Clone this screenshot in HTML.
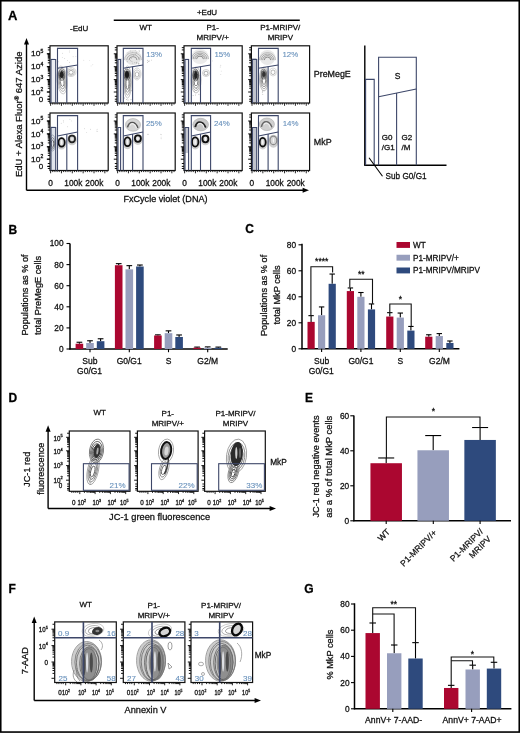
<!DOCTYPE html>
<html><head><meta charset="utf-8"><style>
html,body{margin:0;padding:0;background:#fff;}
text{stroke-width:0.28px;}
svg{display:block;will-change:transform;font-family:"Liberation Sans",sans-serif;}
</style></head><body>
<svg width="520" height="733" viewBox="0 0 520 733">
<rect width="520" height="733" fill="#fff"/>
<rect x="0.75" y="0.75" width="518.50" height="731.30" fill="none" stroke="#000" stroke-width="1.6" />
<text x="8.00" y="20.20" font-size="13" text-anchor="start" fill="#000" stroke="#000" font-weight="bold" >A</text>
<text x="8.40" y="233.50" font-size="12" text-anchor="start" fill="#000" stroke="#000" font-weight="bold" >B</text>
<text x="245.20" y="233.30" font-size="12" text-anchor="start" fill="#000" stroke="#000" font-weight="bold" >C</text>
<text x="8.50" y="402.10" font-size="12" text-anchor="start" fill="#000" stroke="#000" font-weight="bold" >D</text>
<text x="305.00" y="401.60" font-size="12" text-anchor="start" fill="#000" stroke="#000" font-weight="bold" >E</text>
<text x="8.60" y="593.00" font-size="12" text-anchor="start" fill="#000" stroke="#000" font-weight="bold" >F</text>
<text x="304.20" y="593.10" font-size="12" text-anchor="start" fill="#000" stroke="#000" font-weight="bold" >G</text>
<text x="79.10" y="31.00" font-size="8" text-anchor="middle" fill="#111" stroke="#111" font-weight="normal" >-EdU</text>
<text x="207.00" y="14.90" font-size="8" text-anchor="middle" fill="#111" stroke="#111" font-weight="normal" >+EdU</text>
<line x1="113.75" y1="20.20" x2="299.80" y2="20.20" stroke="#000" stroke-width="1.4" />
<text x="145.70" y="30.40" font-size="8" text-anchor="middle" fill="#111" stroke="#111" font-weight="normal" >WT</text>
<text x="212.70" y="30.40" font-size="8" text-anchor="middle" fill="#111" stroke="#111" font-weight="normal" >P1-</text>
<text x="212.70" y="40.10" font-size="8" text-anchor="middle" fill="#111" stroke="#111" font-weight="normal" >MRIPV/+</text>
<text x="280.30" y="30.40" font-size="8" text-anchor="middle" fill="#111" stroke="#111" font-weight="normal" >P1-MRIPV/</text>
<text x="280.30" y="40.10" font-size="8" text-anchor="middle" fill="#111" stroke="#111" font-weight="normal" >MRIPV</text>
<rect x="50.60" y="58.00" width="4.4" height="45.00" fill="#eceef3" opacity="1"/>
<g transform="translate(62.00,80.00) rotate(-5)" opacity="1"><ellipse cx="0" cy="0.00" rx="5.00" ry="14.00" fill="none" stroke="#b8b8b8" stroke-width="0.7"/><ellipse cx="0" cy="0.45" rx="3.94" ry="11.03" fill="none" stroke="#979797" stroke-width="0.7"/><ellipse cx="0" cy="0.89" rx="2.88" ry="8.05" fill="none" stroke="#767676" stroke-width="0.7"/><ellipse cx="0" cy="1.34" rx="1.81" ry="5.08" fill="none" stroke="#555555" stroke-width="0.7"/></g>
<g transform="translate(61.70,74.50) rotate(0)" opacity="1"><ellipse cx="0" cy="0.00" rx="3.20" ry="6.00" fill="none" stroke="#555555" stroke-width="0.7"/><ellipse cx="0" cy="0.26" rx="2.29" ry="4.30" fill="none" stroke="#333333" stroke-width="0.7"/><ellipse cx="0" cy="0.51" rx="1.39" ry="2.60" fill="none" stroke="#111111" stroke-width="0.7"/><ellipse cx="0" cy="0" rx="1.80" ry="3.50" fill="#222"/></g>
<g transform="translate(71.00,72.00) rotate(0)" opacity="1"><ellipse cx="0" cy="0.00" rx="5.00" ry="4.50" fill="none" stroke="#c0c0c0" stroke-width="0.7"/><ellipse cx="0" cy="0.19" rx="3.58" ry="3.23" fill="none" stroke="#a5a5a5" stroke-width="0.7"/><ellipse cx="0" cy="0.38" rx="2.17" ry="1.95" fill="none" stroke="#8a8a8a" stroke-width="0.7"/></g>
<circle cx="62.3" cy="57.6" r="0.45" fill="#bbb"/><circle cx="64.7" cy="58.5" r="0.45" fill="#bbb"/><circle cx="69.3" cy="50.9" r="0.45" fill="#bbb"/><circle cx="58.2" cy="61.7" r="0.45" fill="#bbb"/><circle cx="62.7" cy="53.3" r="0.45" fill="#bbb"/><circle cx="75.9" cy="56.6" r="0.45" fill="#bbb"/><circle cx="73.1" cy="56.7" r="0.45" fill="#bbb"/><circle cx="69.5" cy="52.1" r="0.45" fill="#bbb"/><circle cx="69.4" cy="62.2" r="0.45" fill="#bbb"/><circle cx="67.4" cy="60.4" r="0.45" fill="#bbb"/>
<circle cx="89.7" cy="60.6" r="0.45" fill="#ccc"/><circle cx="91.1" cy="65.9" r="0.45" fill="#ccc"/><circle cx="83.8" cy="60.3" r="0.45" fill="#ccc"/><circle cx="92.8" cy="64.7" r="0.45" fill="#ccc"/>
<rect x="117.60" y="58.00" width="4.4" height="45.00" fill="#eceef3" opacity="1"/>
<ellipse cx="133.00" cy="57.50" rx="8.50" ry="7.50" fill="#e6e6e6"/>
<path d="M124.50,60.12 A8.50,7.50 0 0 1 141.50,60.12" fill="none" stroke="#b9b9b9" stroke-width="0.8"/>
<path d="M126.77,60.12 A6.23,5.50 0 0 1 139.23,60.12" fill="none" stroke="#9d9d9d" stroke-width="0.8"/>
<path d="M129.03,60.12 A3.97,3.50 0 0 1 136.97,60.12" fill="none" stroke="#828282" stroke-width="0.8"/>
<circle cx="136.8" cy="62.3" r="0.45" fill="#999"/><circle cx="136.7" cy="62.9" r="0.45" fill="#999"/><circle cx="131.9" cy="61.2" r="0.45" fill="#999"/><circle cx="132.7" cy="63.1" r="0.45" fill="#999"/><circle cx="139.2" cy="51.4" r="0.45" fill="#999"/><circle cx="128.0" cy="53.0" r="0.45" fill="#999"/><circle cx="140.5" cy="56.1" r="0.45" fill="#999"/><circle cx="135.4" cy="54.2" r="0.45" fill="#999"/><circle cx="133.6" cy="55.4" r="0.45" fill="#999"/><circle cx="131.3" cy="58.2" r="0.45" fill="#999"/><circle cx="134.8" cy="62.7" r="0.45" fill="#999"/><circle cx="136.2" cy="63.0" r="0.45" fill="#999"/><circle cx="138.8" cy="63.9" r="0.45" fill="#999"/><circle cx="136.1" cy="52.3" r="0.45" fill="#999"/><circle cx="138.9" cy="63.5" r="0.45" fill="#999"/><circle cx="139.6" cy="58.0" r="0.45" fill="#999"/><circle cx="136.7" cy="53.0" r="0.45" fill="#999"/><circle cx="138.5" cy="58.0" r="0.45" fill="#999"/><circle cx="130.3" cy="50.9" r="0.45" fill="#999"/><circle cx="138.8" cy="63.9" r="0.45" fill="#999"/><circle cx="127.3" cy="61.2" r="0.45" fill="#999"/><circle cx="132.2" cy="52.1" r="0.45" fill="#999"/><circle cx="130.4" cy="60.8" r="0.45" fill="#999"/><circle cx="139.1" cy="50.6" r="0.45" fill="#999"/><circle cx="135.2" cy="50.6" r="0.45" fill="#999"/>
<g transform="translate(127.50,82.00) rotate(0)" opacity="1"><ellipse cx="0" cy="0.00" rx="4.00" ry="16.00" fill="none" stroke="#b0b0b0" stroke-width="0.7"/><ellipse cx="0" cy="0.51" rx="3.15" ry="12.60" fill="none" stroke="#919191" stroke-width="0.7"/><ellipse cx="0" cy="1.02" rx="2.30" ry="9.20" fill="none" stroke="#737373" stroke-width="0.7"/><ellipse cx="0" cy="1.53" rx="1.45" ry="5.80" fill="none" stroke="#555555" stroke-width="0.7"/></g>
<g transform="translate(127.00,74.50) rotate(0)" opacity="1"><ellipse cx="0" cy="0.00" rx="3.20" ry="5.50" fill="none" stroke="#444444" stroke-width="0.7"/><ellipse cx="0" cy="0.23" rx="2.29" ry="3.94" fill="none" stroke="#2a2a2a" stroke-width="0.7"/><ellipse cx="0" cy="0.47" rx="1.39" ry="2.38" fill="none" stroke="#111111" stroke-width="0.7"/><ellipse cx="0" cy="0" rx="2.00" ry="3.60" fill="#1a1a1a"/></g>
<g transform="translate(137.00,74.00) rotate(0)" opacity="1"><ellipse cx="0" cy="0.00" rx="4.00" ry="6.00" fill="none" stroke="#c8c8c8" stroke-width="0.7"/><ellipse cx="0" cy="0.26" rx="2.87" ry="4.30" fill="none" stroke="#b0b0b0" stroke-width="0.7"/><ellipse cx="0" cy="0.51" rx="1.73" ry="2.60" fill="none" stroke="#999999" stroke-width="0.7"/></g>
<circle cx="129.7" cy="90.0" r="0.45" fill="#777"/><circle cx="131.0" cy="99.7" r="0.45" fill="#777"/><circle cx="128.0" cy="100.0" r="0.45" fill="#777"/><circle cx="126.5" cy="86.2" r="0.45" fill="#777"/><circle cx="128.8" cy="85.5" r="0.45" fill="#777"/><circle cx="125.6" cy="91.1" r="0.45" fill="#777"/><circle cx="128.9" cy="87.3" r="0.45" fill="#777"/><circle cx="124.3" cy="98.0" r="0.45" fill="#777"/><circle cx="126.5" cy="99.4" r="0.45" fill="#777"/><circle cx="131.2" cy="90.7" r="0.45" fill="#777"/>
<circle cx="147.7" cy="60.2" r="0.45" fill="#999"/><circle cx="149.2" cy="61.0" r="0.45" fill="#999"/><circle cx="148.5" cy="61.2" r="0.45" fill="#999"/><circle cx="151.5" cy="60.1" r="0.45" fill="#999"/><circle cx="147.4" cy="62.2" r="0.45" fill="#999"/>
<rect x="184.60" y="58.00" width="4.4" height="45.00" fill="#eceef3" opacity="1"/>
<ellipse cx="200.00" cy="56.50" rx="8.50" ry="7.50" fill="#ebebeb"/>
<path d="M191.50,59.12 A8.50,7.50 0 0 1 208.50,59.12" fill="none" stroke="#aaaaaa" stroke-width="0.8"/>
<path d="M193.20,59.12 A6.80,6.00 0 0 1 206.80,59.12" fill="none" stroke="#969696" stroke-width="0.8"/>
<path d="M194.90,59.12 A5.10,4.50 0 0 1 205.10,59.12" fill="none" stroke="#828282" stroke-width="0.8"/>
<path d="M196.60,59.12 A3.40,3.00 0 0 1 203.40,59.12" fill="none" stroke="#6e6e6e" stroke-width="0.8"/>
<g transform="translate(196.00,80.00) rotate(0)" opacity="1"><ellipse cx="0" cy="0.00" rx="5.00" ry="13.00" fill="none" stroke="#aaaaaa" stroke-width="0.7"/><ellipse cx="0" cy="0.41" rx="3.94" ry="10.24" fill="none" stroke="#8d8d8d" stroke-width="0.7"/><ellipse cx="0" cy="0.83" rx="2.88" ry="7.47" fill="none" stroke="#717171" stroke-width="0.7"/><ellipse cx="0" cy="1.24" rx="1.81" ry="4.71" fill="none" stroke="#555555" stroke-width="0.7"/></g>
<g transform="translate(195.70,75.00) rotate(0)" opacity="1"><ellipse cx="0" cy="0.00" rx="2.80" ry="6.00" fill="none" stroke="#333333" stroke-width="0.7"/><ellipse cx="0" cy="0.26" rx="2.01" ry="4.30" fill="none" stroke="#222222" stroke-width="0.7"/><ellipse cx="0" cy="0.51" rx="1.21" ry="2.60" fill="none" stroke="#111111" stroke-width="0.7"/><ellipse cx="0" cy="0" rx="1.50" ry="4.00" fill="#222"/></g>
<g transform="translate(206.00,73.00) rotate(0)" opacity="1"><ellipse cx="0" cy="0.00" rx="3.50" ry="3.50" fill="none" stroke="#bbbbbb" stroke-width="0.7"/><ellipse cx="0" cy="0.22" rx="2.01" ry="2.01" fill="none" stroke="#888888" stroke-width="0.7"/></g>
<circle cx="194.4" cy="91.6" r="0.45" fill="#888"/><circle cx="198.9" cy="94.3" r="0.45" fill="#888"/><circle cx="196.3" cy="88.1" r="0.45" fill="#888"/><circle cx="195.5" cy="95.0" r="0.45" fill="#888"/><circle cx="193.1" cy="95.4" r="0.45" fill="#888"/><circle cx="196.8" cy="88.7" r="0.45" fill="#888"/>
<circle cx="220.2" cy="67.0" r="0.45" fill="#bbb"/><circle cx="220.8" cy="65.3" r="0.45" fill="#bbb"/><circle cx="221.2" cy="71.1" r="0.45" fill="#bbb"/><circle cx="212.3" cy="60.9" r="0.45" fill="#bbb"/><circle cx="220.8" cy="74.4" r="0.45" fill="#bbb"/>
<rect x="252" y="58" width="4.5" height="45" fill="#b9bcc7" opacity="0.9"/>
<ellipse cx="267.50" cy="57.50" rx="8.00" ry="7.50" fill="#e8e8e8"/>
<path d="M259.50,60.12 A8.00,7.50 0 0 1 275.50,60.12" fill="none" stroke="#afafaf" stroke-width="0.8"/>
<path d="M261.10,60.12 A6.40,6.00 0 0 1 273.90,60.12" fill="none" stroke="#9c9c9c" stroke-width="0.8"/>
<path d="M262.70,60.12 A4.80,4.50 0 0 1 272.30,60.12" fill="none" stroke="#8a8a8a" stroke-width="0.8"/>
<path d="M264.30,60.12 A3.20,3.00 0 0 1 270.70,60.12" fill="none" stroke="#787878" stroke-width="0.8"/>
<g transform="translate(264.00,79.00) rotate(0)" opacity="1"><ellipse cx="0" cy="0.00" rx="4.50" ry="12.00" fill="none" stroke="#aaaaaa" stroke-width="0.7"/><ellipse cx="0" cy="0.38" rx="3.54" ry="9.45" fill="none" stroke="#8d8d8d" stroke-width="0.7"/><ellipse cx="0" cy="0.77" rx="2.59" ry="6.90" fill="none" stroke="#717171" stroke-width="0.7"/><ellipse cx="0" cy="1.15" rx="1.63" ry="4.35" fill="none" stroke="#555555" stroke-width="0.7"/></g>
<g transform="translate(263.80,74.00) rotate(0)" opacity="1"><ellipse cx="0" cy="0.00" rx="2.60" ry="5.00" fill="none" stroke="#444444" stroke-width="0.7"/><ellipse cx="0" cy="0.21" rx="1.86" ry="3.58" fill="none" stroke="#333333" stroke-width="0.7"/><ellipse cx="0" cy="0.42" rx="1.13" ry="2.17" fill="none" stroke="#222222" stroke-width="0.7"/><ellipse cx="0" cy="0" rx="1.40" ry="3.00" fill="#333"/></g>
<g transform="translate(273.00,72.00) rotate(0)" opacity="1"><ellipse cx="0" cy="0.00" rx="3.50" ry="4.00" fill="none" stroke="#cccccc" stroke-width="0.7"/><ellipse cx="0" cy="0.26" rx="2.01" ry="2.30" fill="none" stroke="#999999" stroke-width="0.7"/></g>
<circle cx="262.3" cy="92.4" r="0.45" fill="#999"/><circle cx="264.0" cy="90.5" r="0.45" fill="#999"/><circle cx="262.8" cy="90.4" r="0.45" fill="#999"/><circle cx="262.8" cy="94.3" r="0.45" fill="#999"/><circle cx="262.5" cy="91.3" r="0.45" fill="#999"/><circle cx="264.9" cy="86.4" r="0.45" fill="#999"/>
<rect x="50.6" y="126" width="5" height="44" fill="#dde1ea" opacity="0.9"/>
<g transform="translate(52.50,143.00) rotate(0)" opacity="1"><ellipse cx="0" cy="0.00" rx="3.00" ry="8.00" fill="none" stroke="#8890a0" stroke-width="0.7"/><ellipse cx="0" cy="0.34" rx="2.15" ry="5.73" fill="none" stroke="#5d6169" stroke-width="0.7"/><ellipse cx="0" cy="0.68" rx="1.30" ry="3.47" fill="none" stroke="#333333" stroke-width="0.7"/></g>
<ellipse cx="61.60" cy="143.20" rx="4.90" ry="6.40" fill="#c4c4c4" opacity="0.8"/>
<ellipse cx="61.60" cy="142.40" rx="3.10" ry="4.20" fill="#d8d8d8" stroke="#0d0d0d" stroke-width="1.8"/>
<ellipse cx="61.60" cy="142.40" rx="0.7" ry="2.31" fill="#fff" opacity="0.8"/>
<ellipse cx="72.00" cy="139.80" rx="4.90" ry="5.50" fill="#c4c4c4" opacity="0.8"/>
<ellipse cx="72.00" cy="139.00" rx="3.10" ry="3.30" fill="#ccc" stroke="#222" stroke-width="1.7"/>
<ellipse cx="72.00" cy="139.00" rx="0.7" ry="1.81" fill="#fff" opacity="0.8"/>
<circle cx="67.7" cy="126.8" r="0.45" fill="#bbb"/><circle cx="63.3" cy="120.7" r="0.45" fill="#bbb"/><circle cx="71.7" cy="120.9" r="0.45" fill="#bbb"/><circle cx="61.2" cy="123.2" r="0.45" fill="#bbb"/><circle cx="69.9" cy="119.2" r="0.45" fill="#bbb"/><circle cx="63.5" cy="122.0" r="0.45" fill="#bbb"/>
<circle cx="96.7" cy="131.1" r="0.45" fill="#bbb"/><circle cx="97.1" cy="129.2" r="0.45" fill="#bbb"/><circle cx="86.7" cy="132.6" r="0.45" fill="#bbb"/><circle cx="97.7" cy="131.2" r="0.45" fill="#bbb"/><circle cx="84.5" cy="128.8" r="0.45" fill="#bbb"/><circle cx="90.6" cy="129.3" r="0.45" fill="#bbb"/>
<ellipse cx="133.00" cy="124.90" rx="7.50" ry="6.30" fill="#d6d6d6"/>
<ellipse cx="133.00" cy="124.90" rx="7.50" ry="6.30" fill="none" stroke="#aaa" stroke-width="0.6"/>
<path d="M127.50,127.40 C129.00,120.90 135.00,120.40 138.00,127.90" fill="none" stroke="#555" stroke-width="1.5"/>
<path d="M130.00,125.40 C131.50,122.40 135.00,123.40 136.50,128.10" fill="none" stroke="#eee" stroke-width="1.1"/>
<ellipse cx="127.50" cy="142.60" rx="4.90" ry="6.60" fill="#c4c4c4" opacity="0.8"/>
<ellipse cx="127.50" cy="141.80" rx="3.10" ry="4.40" fill="#d8d8d8" stroke="#0d0d0d" stroke-width="1.8"/>
<ellipse cx="127.50" cy="141.80" rx="0.7" ry="2.42" fill="#fff" opacity="0.8"/>
<ellipse cx="137.90" cy="139.40" rx="4.80" ry="5.50" fill="#c4c4c4" opacity="0.8"/>
<ellipse cx="137.90" cy="138.60" rx="3.00" ry="3.30" fill="#d8d8d8" stroke="#0d0d0d" stroke-width="1.8"/>
<ellipse cx="137.90" cy="138.60" rx="0.7" ry="1.81" fill="#fff" opacity="0.8"/>
<circle cx="161.1" cy="138.7" r="0.45" fill="#bbb"/><circle cx="148.7" cy="134.2" r="0.45" fill="#bbb"/><circle cx="161.1" cy="137.1" r="0.45" fill="#bbb"/><circle cx="161.1" cy="134.8" r="0.45" fill="#bbb"/><circle cx="147.6" cy="134.3" r="0.45" fill="#bbb"/><circle cx="160.9" cy="134.2" r="0.45" fill="#bbb"/>
<ellipse cx="200.70" cy="124.60" rx="7.80" ry="6.30" fill="#c8c8c8"/>
<ellipse cx="200.70" cy="124.60" rx="7.80" ry="6.30" fill="none" stroke="#aaa" stroke-width="0.6"/>
<path d="M195.20,127.10 C196.70,120.60 202.70,120.10 205.70,127.60" fill="none" stroke="#222" stroke-width="1.9"/>
<path d="M197.70,125.10 C199.20,122.10 202.70,123.10 204.20,127.80" fill="none" stroke="#eee" stroke-width="1.1"/>
<ellipse cx="195.20" cy="142.80" rx="5.00" ry="6.80" fill="#c4c4c4" opacity="0.8"/>
<ellipse cx="195.20" cy="142.00" rx="3.20" ry="4.60" fill="#d8d8d8" stroke="#0d0d0d" stroke-width="1.8"/>
<ellipse cx="195.20" cy="142.00" rx="0.7" ry="2.53" fill="#fff" opacity="0.8"/>
<ellipse cx="205.40" cy="139.80" rx="4.80" ry="5.50" fill="#c4c4c4" opacity="0.8"/>
<ellipse cx="205.40" cy="139.00" rx="3.00" ry="3.30" fill="#d8d8d8" stroke="#0d0d0d" stroke-width="1.8"/>
<ellipse cx="205.40" cy="139.00" rx="0.7" ry="1.81" fill="#fff" opacity="0.8"/>
<rect x="185" y="128" width="3.4" height="25" fill="#b8bcc6" opacity="0.8"/>
<rect x="252" y="128" width="4.5" height="42" fill="#b9bcc7" opacity="0.9"/>
<ellipse cx="266.90" cy="124.30" rx="7.50" ry="6.30" fill="#d0d0d0"/>
<ellipse cx="266.90" cy="124.30" rx="7.50" ry="6.30" fill="none" stroke="#aaa" stroke-width="0.6"/>
<path d="M261.40,126.80 C262.90,120.30 268.90,119.80 271.90,127.30" fill="none" stroke="#666" stroke-width="1.5"/>
<path d="M263.90,124.80 C265.40,121.80 268.90,122.80 270.40,127.50" fill="none" stroke="#eee" stroke-width="1.1"/>
<ellipse cx="262.70" cy="143.00" rx="4.80" ry="6.50" fill="#c4c4c4" opacity="0.8"/>
<ellipse cx="262.70" cy="142.20" rx="3.00" ry="4.30" fill="#d8d8d8" stroke="#0d0d0d" stroke-width="1.8"/>
<ellipse cx="262.70" cy="142.20" rx="0.7" ry="2.37" fill="#fff" opacity="0.8"/>
<ellipse cx="273.40" cy="141.20" rx="5.20" ry="6.50" fill="#c4c4c4" opacity="0.8"/>
<ellipse cx="273.40" cy="140.40" rx="3.40" ry="4.30" fill="#d5d5d5" stroke="#888" stroke-width="1.2"/>
<ellipse cx="273.40" cy="140.40" rx="0.7" ry="2.37" fill="#fff" opacity="0.8"/>
<rect x="50.00" y="45.80" width="58.20" height="57.20" fill="none" stroke="#111" stroke-width="1.2" />
<path d="M50.00,92.00h-3.20 M50.00,88.27h-2.20 M50.00,86.08h-2.20 M50.00,84.53h-2.20 M50.00,83.33h-2.20 M50.00,82.35h-2.20 M50.00,81.52h-2.20 M50.00,80.80h-2.20 M50.00,80.17h-2.20 M50.00,79.60h-3.20 M50.00,75.72h-2.20 M50.00,73.45h-2.20 M50.00,71.83h-2.20 M50.00,70.58h-2.20 M50.00,69.56h-2.20 M50.00,68.70h-2.20 M50.00,67.95h-2.20 M50.00,67.29h-2.20 M50.00,66.70h-3.20 M50.00,62.82h-2.20 M50.00,60.55h-2.20 M50.00,58.93h-2.20 M50.00,57.68h-2.20 M50.00,56.66h-2.20 M50.00,55.80h-2.20 M50.00,55.05h-2.20 M50.00,54.39h-2.20 M50.00,53.80h-3.20 M50.00,49.92h-2.20 M50.00,47.65h-2.20 M50.00,99.20h-2.20 M50.00,96.30h-2.20 M50.00,101.30h-2.20" stroke="#111" stroke-width="1.0" fill="none"/>
<path d="M50.60,103.00v2.80 M52.77,103.00v1.60 M54.94,103.00v1.60 M57.11,103.00v1.60 M59.28,103.00v1.60 M61.45,103.00v2.80 M63.62,103.00v1.60 M65.79,103.00v1.60 M67.96,103.00v1.60 M70.13,103.00v1.60 M72.30,103.00v2.80 M74.47,103.00v1.60 M76.64,103.00v1.60 M78.81,103.00v1.60 M80.98,103.00v1.60 M83.15,103.00v2.80 M85.32,103.00v1.60 M87.49,103.00v1.60 M89.66,103.00v1.60 M91.83,103.00v1.60 M94.00,103.00v2.80 M96.17,103.00v1.60 M98.34,103.00v1.60 M100.51,103.00v1.60 M102.68,103.00v1.60 M104.85,103.00v2.80 M107.02,103.00v1.60" stroke="#111" stroke-width="0.9" fill="none"/>
<path d="M51.00,103.00 V59.50 H55.70 V103.00" fill="none" stroke="#3d4769" stroke-width="1.1"/>
<path d="M57.50,103.00 V48.40 H77.60 V103.00" fill="none" stroke="#3d4769" stroke-width="1.1"/>
<line x1="57.50" y1="68.20" x2="77.60" y2="65.00" stroke="#3d4769" stroke-width="1.1" />
<line x1="66.80" y1="66.72" x2="66.80" y2="103.00" stroke="#3d4769" stroke-width="1.1" />
<rect x="117.00" y="45.80" width="58.20" height="57.20" fill="none" stroke="#111" stroke-width="1.2" />
<path d="M117.00,92.00h-3.20 M117.00,88.27h-2.20 M117.00,86.08h-2.20 M117.00,84.53h-2.20 M117.00,83.33h-2.20 M117.00,82.35h-2.20 M117.00,81.52h-2.20 M117.00,80.80h-2.20 M117.00,80.17h-2.20 M117.00,79.60h-3.20 M117.00,75.72h-2.20 M117.00,73.45h-2.20 M117.00,71.83h-2.20 M117.00,70.58h-2.20 M117.00,69.56h-2.20 M117.00,68.70h-2.20 M117.00,67.95h-2.20 M117.00,67.29h-2.20 M117.00,66.70h-3.20 M117.00,62.82h-2.20 M117.00,60.55h-2.20 M117.00,58.93h-2.20 M117.00,57.68h-2.20 M117.00,56.66h-2.20 M117.00,55.80h-2.20 M117.00,55.05h-2.20 M117.00,54.39h-2.20 M117.00,53.80h-3.20 M117.00,49.92h-2.20 M117.00,47.65h-2.20 M117.00,99.20h-2.20 M117.00,96.30h-2.20 M117.00,101.30h-2.20" stroke="#111" stroke-width="1.0" fill="none"/>
<path d="M117.60,103.00v2.80 M119.77,103.00v1.60 M121.94,103.00v1.60 M124.11,103.00v1.60 M126.28,103.00v1.60 M128.45,103.00v2.80 M130.62,103.00v1.60 M132.79,103.00v1.60 M134.96,103.00v1.60 M137.13,103.00v1.60 M139.30,103.00v2.80 M141.47,103.00v1.60 M143.64,103.00v1.60 M145.81,103.00v1.60 M147.98,103.00v1.60 M150.15,103.00v2.80 M152.32,103.00v1.60 M154.49,103.00v1.60 M156.66,103.00v1.60 M158.83,103.00v1.60 M161.00,103.00v2.80 M163.17,103.00v1.60 M165.34,103.00v1.60 M167.51,103.00v1.60 M169.68,103.00v1.60 M171.85,103.00v2.80 M174.02,103.00v1.60" stroke="#111" stroke-width="0.9" fill="none"/>
<path d="M118.00,103.00 V59.50 H120.60 V103.00" fill="none" stroke="#3d4769" stroke-width="1.1"/>
<path d="M123.30,103.00 V48.40 H143.00 V103.00" fill="none" stroke="#3d4769" stroke-width="1.1"/>
<line x1="123.30" y1="68.20" x2="143.00" y2="65.00" stroke="#3d4769" stroke-width="1.1" />
<line x1="132.60" y1="66.69" x2="132.60" y2="103.00" stroke="#3d4769" stroke-width="1.1" />
<rect x="184.00" y="45.80" width="58.20" height="57.20" fill="none" stroke="#111" stroke-width="1.2" />
<path d="M184.00,92.00h-3.20 M184.00,88.27h-2.20 M184.00,86.08h-2.20 M184.00,84.53h-2.20 M184.00,83.33h-2.20 M184.00,82.35h-2.20 M184.00,81.52h-2.20 M184.00,80.80h-2.20 M184.00,80.17h-2.20 M184.00,79.60h-3.20 M184.00,75.72h-2.20 M184.00,73.45h-2.20 M184.00,71.83h-2.20 M184.00,70.58h-2.20 M184.00,69.56h-2.20 M184.00,68.70h-2.20 M184.00,67.95h-2.20 M184.00,67.29h-2.20 M184.00,66.70h-3.20 M184.00,62.82h-2.20 M184.00,60.55h-2.20 M184.00,58.93h-2.20 M184.00,57.68h-2.20 M184.00,56.66h-2.20 M184.00,55.80h-2.20 M184.00,55.05h-2.20 M184.00,54.39h-2.20 M184.00,53.80h-3.20 M184.00,49.92h-2.20 M184.00,47.65h-2.20 M184.00,99.20h-2.20 M184.00,96.30h-2.20 M184.00,101.30h-2.20" stroke="#111" stroke-width="1.0" fill="none"/>
<path d="M184.60,103.00v2.80 M186.77,103.00v1.60 M188.94,103.00v1.60 M191.11,103.00v1.60 M193.28,103.00v1.60 M195.45,103.00v2.80 M197.62,103.00v1.60 M199.79,103.00v1.60 M201.96,103.00v1.60 M204.13,103.00v1.60 M206.30,103.00v2.80 M208.47,103.00v1.60 M210.64,103.00v1.60 M212.81,103.00v1.60 M214.98,103.00v1.60 M217.15,103.00v2.80 M219.32,103.00v1.60 M221.49,103.00v1.60 M223.66,103.00v1.60 M225.83,103.00v1.60 M228.00,103.00v2.80 M230.17,103.00v1.60 M232.34,103.00v1.60 M234.51,103.00v1.60 M236.68,103.00v1.60 M238.85,103.00v2.80 M241.02,103.00v1.60" stroke="#111" stroke-width="0.9" fill="none"/>
<path d="M185.00,103.00 V59.50 H188.60 V103.00" fill="none" stroke="#3d4769" stroke-width="1.1"/>
<path d="M191.30,103.00 V48.40 H210.60 V103.00" fill="none" stroke="#3d4769" stroke-width="1.1"/>
<line x1="191.30" y1="68.20" x2="210.60" y2="65.00" stroke="#3d4769" stroke-width="1.1" />
<line x1="200.50" y1="66.67" x2="200.50" y2="103.00" stroke="#3d4769" stroke-width="1.1" />
<rect x="251.40" y="45.80" width="58.20" height="57.20" fill="none" stroke="#111" stroke-width="1.2" />
<path d="M251.40,92.00h-3.20 M251.40,88.27h-2.20 M251.40,86.08h-2.20 M251.40,84.53h-2.20 M251.40,83.33h-2.20 M251.40,82.35h-2.20 M251.40,81.52h-2.20 M251.40,80.80h-2.20 M251.40,80.17h-2.20 M251.40,79.60h-3.20 M251.40,75.72h-2.20 M251.40,73.45h-2.20 M251.40,71.83h-2.20 M251.40,70.58h-2.20 M251.40,69.56h-2.20 M251.40,68.70h-2.20 M251.40,67.95h-2.20 M251.40,67.29h-2.20 M251.40,66.70h-3.20 M251.40,62.82h-2.20 M251.40,60.55h-2.20 M251.40,58.93h-2.20 M251.40,57.68h-2.20 M251.40,56.66h-2.20 M251.40,55.80h-2.20 M251.40,55.05h-2.20 M251.40,54.39h-2.20 M251.40,53.80h-3.20 M251.40,49.92h-2.20 M251.40,47.65h-2.20 M251.40,99.20h-2.20 M251.40,96.30h-2.20 M251.40,101.30h-2.20" stroke="#111" stroke-width="1.0" fill="none"/>
<path d="M252.00,103.00v2.80 M254.17,103.00v1.60 M256.34,103.00v1.60 M258.51,103.00v1.60 M260.68,103.00v1.60 M262.85,103.00v2.80 M265.02,103.00v1.60 M267.19,103.00v1.60 M269.36,103.00v1.60 M271.53,103.00v1.60 M273.70,103.00v2.80 M275.87,103.00v1.60 M278.04,103.00v1.60 M280.21,103.00v1.60 M282.38,103.00v1.60 M284.55,103.00v2.80 M286.72,103.00v1.60 M288.89,103.00v1.60 M291.06,103.00v1.60 M293.23,103.00v1.60 M295.40,103.00v2.80 M297.57,103.00v1.60 M299.74,103.00v1.60 M301.91,103.00v1.60 M304.08,103.00v1.60 M306.25,103.00v2.80 M308.42,103.00v1.60" stroke="#111" stroke-width="0.9" fill="none"/>
<path d="M252.40,103.00 V59.50 H256.70 V103.00" fill="none" stroke="#3d4769" stroke-width="1.1"/>
<path d="M258.50,103.00 V48.40 H278.20 V103.00" fill="none" stroke="#3d4769" stroke-width="1.1"/>
<line x1="258.50" y1="68.20" x2="278.20" y2="65.00" stroke="#3d4769" stroke-width="1.1" />
<line x1="268.10" y1="66.64" x2="268.10" y2="103.00" stroke="#3d4769" stroke-width="1.1" />
<rect x="50.00" y="113.00" width="58.20" height="57.50" fill="none" stroke="#111" stroke-width="1.2" />
<path d="M50.00,159.20h-3.20 M50.00,155.47h-2.20 M50.00,153.28h-2.20 M50.00,151.73h-2.20 M50.00,150.53h-2.20 M50.00,149.55h-2.20 M50.00,148.72h-2.20 M50.00,148.00h-2.20 M50.00,147.37h-2.20 M50.00,146.80h-3.20 M50.00,142.92h-2.20 M50.00,140.65h-2.20 M50.00,139.03h-2.20 M50.00,137.78h-2.20 M50.00,136.76h-2.20 M50.00,135.90h-2.20 M50.00,135.15h-2.20 M50.00,134.49h-2.20 M50.00,133.90h-3.20 M50.00,130.02h-2.20 M50.00,127.75h-2.20 M50.00,126.13h-2.20 M50.00,124.88h-2.20 M50.00,123.86h-2.20 M50.00,123.00h-2.20 M50.00,122.25h-2.20 M50.00,121.59h-2.20 M50.00,121.00h-3.20 M50.00,117.12h-2.20 M50.00,114.85h-2.20 M50.00,166.40h-2.20 M50.00,163.50h-2.20 M50.00,168.50h-2.20" stroke="#111" stroke-width="1.0" fill="none"/>
<path d="M50.60,170.50v2.80 M52.77,170.50v1.60 M54.94,170.50v1.60 M57.11,170.50v1.60 M59.28,170.50v1.60 M61.45,170.50v2.80 M63.62,170.50v1.60 M65.79,170.50v1.60 M67.96,170.50v1.60 M70.13,170.50v1.60 M72.30,170.50v2.80 M74.47,170.50v1.60 M76.64,170.50v1.60 M78.81,170.50v1.60 M80.98,170.50v1.60 M83.15,170.50v2.80 M85.32,170.50v1.60 M87.49,170.50v1.60 M89.66,170.50v1.60 M91.83,170.50v1.60 M94.00,170.50v2.80 M96.17,170.50v1.60 M98.34,170.50v1.60 M100.51,170.50v1.60 M102.68,170.50v1.60 M104.85,170.50v2.80 M107.02,170.50v1.60" stroke="#111" stroke-width="0.9" fill="none"/>
<path d="M51.00,170.50 V127.50 H55.70 V170.50" fill="none" stroke="#3d4769" stroke-width="1.1"/>
<path d="M57.50,170.50 V115.60 H77.60 V170.50" fill="none" stroke="#3d4769" stroke-width="1.1"/>
<line x1="57.50" y1="136.00" x2="77.60" y2="132.00" stroke="#3d4769" stroke-width="1.1" />
<line x1="66.80" y1="134.15" x2="66.80" y2="170.50" stroke="#3d4769" stroke-width="1.1" />
<rect x="117.00" y="113.00" width="58.20" height="57.50" fill="none" stroke="#111" stroke-width="1.2" />
<path d="M117.00,159.20h-3.20 M117.00,155.47h-2.20 M117.00,153.28h-2.20 M117.00,151.73h-2.20 M117.00,150.53h-2.20 M117.00,149.55h-2.20 M117.00,148.72h-2.20 M117.00,148.00h-2.20 M117.00,147.37h-2.20 M117.00,146.80h-3.20 M117.00,142.92h-2.20 M117.00,140.65h-2.20 M117.00,139.03h-2.20 M117.00,137.78h-2.20 M117.00,136.76h-2.20 M117.00,135.90h-2.20 M117.00,135.15h-2.20 M117.00,134.49h-2.20 M117.00,133.90h-3.20 M117.00,130.02h-2.20 M117.00,127.75h-2.20 M117.00,126.13h-2.20 M117.00,124.88h-2.20 M117.00,123.86h-2.20 M117.00,123.00h-2.20 M117.00,122.25h-2.20 M117.00,121.59h-2.20 M117.00,121.00h-3.20 M117.00,117.12h-2.20 M117.00,114.85h-2.20 M117.00,166.40h-2.20 M117.00,163.50h-2.20 M117.00,168.50h-2.20" stroke="#111" stroke-width="1.0" fill="none"/>
<path d="M117.60,170.50v2.80 M119.77,170.50v1.60 M121.94,170.50v1.60 M124.11,170.50v1.60 M126.28,170.50v1.60 M128.45,170.50v2.80 M130.62,170.50v1.60 M132.79,170.50v1.60 M134.96,170.50v1.60 M137.13,170.50v1.60 M139.30,170.50v2.80 M141.47,170.50v1.60 M143.64,170.50v1.60 M145.81,170.50v1.60 M147.98,170.50v1.60 M150.15,170.50v2.80 M152.32,170.50v1.60 M154.49,170.50v1.60 M156.66,170.50v1.60 M158.83,170.50v1.60 M161.00,170.50v2.80 M163.17,170.50v1.60 M165.34,170.50v1.60 M167.51,170.50v1.60 M169.68,170.50v1.60 M171.85,170.50v2.80 M174.02,170.50v1.60" stroke="#111" stroke-width="0.9" fill="none"/>
<path d="M118.00,170.50 V127.50 H120.60 V170.50" fill="none" stroke="#3d4769" stroke-width="1.1"/>
<path d="M123.30,170.50 V115.60 H143.00 V170.50" fill="none" stroke="#3d4769" stroke-width="1.1"/>
<line x1="123.30" y1="136.00" x2="143.00" y2="132.00" stroke="#3d4769" stroke-width="1.1" />
<line x1="132.60" y1="134.11" x2="132.60" y2="170.50" stroke="#3d4769" stroke-width="1.1" />
<rect x="184.00" y="113.00" width="58.20" height="57.50" fill="none" stroke="#111" stroke-width="1.2" />
<path d="M184.00,159.20h-3.20 M184.00,155.47h-2.20 M184.00,153.28h-2.20 M184.00,151.73h-2.20 M184.00,150.53h-2.20 M184.00,149.55h-2.20 M184.00,148.72h-2.20 M184.00,148.00h-2.20 M184.00,147.37h-2.20 M184.00,146.80h-3.20 M184.00,142.92h-2.20 M184.00,140.65h-2.20 M184.00,139.03h-2.20 M184.00,137.78h-2.20 M184.00,136.76h-2.20 M184.00,135.90h-2.20 M184.00,135.15h-2.20 M184.00,134.49h-2.20 M184.00,133.90h-3.20 M184.00,130.02h-2.20 M184.00,127.75h-2.20 M184.00,126.13h-2.20 M184.00,124.88h-2.20 M184.00,123.86h-2.20 M184.00,123.00h-2.20 M184.00,122.25h-2.20 M184.00,121.59h-2.20 M184.00,121.00h-3.20 M184.00,117.12h-2.20 M184.00,114.85h-2.20 M184.00,166.40h-2.20 M184.00,163.50h-2.20 M184.00,168.50h-2.20" stroke="#111" stroke-width="1.0" fill="none"/>
<path d="M184.60,170.50v2.80 M186.77,170.50v1.60 M188.94,170.50v1.60 M191.11,170.50v1.60 M193.28,170.50v1.60 M195.45,170.50v2.80 M197.62,170.50v1.60 M199.79,170.50v1.60 M201.96,170.50v1.60 M204.13,170.50v1.60 M206.30,170.50v2.80 M208.47,170.50v1.60 M210.64,170.50v1.60 M212.81,170.50v1.60 M214.98,170.50v1.60 M217.15,170.50v2.80 M219.32,170.50v1.60 M221.49,170.50v1.60 M223.66,170.50v1.60 M225.83,170.50v1.60 M228.00,170.50v2.80 M230.17,170.50v1.60 M232.34,170.50v1.60 M234.51,170.50v1.60 M236.68,170.50v1.60 M238.85,170.50v2.80 M241.02,170.50v1.60" stroke="#111" stroke-width="0.9" fill="none"/>
<path d="M185.00,170.50 V127.50 H188.60 V170.50" fill="none" stroke="#3d4769" stroke-width="1.1"/>
<path d="M191.30,170.50 V115.60 H210.60 V170.50" fill="none" stroke="#3d4769" stroke-width="1.1"/>
<line x1="191.30" y1="136.00" x2="210.60" y2="132.00" stroke="#3d4769" stroke-width="1.1" />
<line x1="200.50" y1="134.09" x2="200.50" y2="170.50" stroke="#3d4769" stroke-width="1.1" />
<rect x="251.40" y="113.00" width="58.20" height="57.50" fill="none" stroke="#111" stroke-width="1.2" />
<path d="M251.40,159.20h-3.20 M251.40,155.47h-2.20 M251.40,153.28h-2.20 M251.40,151.73h-2.20 M251.40,150.53h-2.20 M251.40,149.55h-2.20 M251.40,148.72h-2.20 M251.40,148.00h-2.20 M251.40,147.37h-2.20 M251.40,146.80h-3.20 M251.40,142.92h-2.20 M251.40,140.65h-2.20 M251.40,139.03h-2.20 M251.40,137.78h-2.20 M251.40,136.76h-2.20 M251.40,135.90h-2.20 M251.40,135.15h-2.20 M251.40,134.49h-2.20 M251.40,133.90h-3.20 M251.40,130.02h-2.20 M251.40,127.75h-2.20 M251.40,126.13h-2.20 M251.40,124.88h-2.20 M251.40,123.86h-2.20 M251.40,123.00h-2.20 M251.40,122.25h-2.20 M251.40,121.59h-2.20 M251.40,121.00h-3.20 M251.40,117.12h-2.20 M251.40,114.85h-2.20 M251.40,166.40h-2.20 M251.40,163.50h-2.20 M251.40,168.50h-2.20" stroke="#111" stroke-width="1.0" fill="none"/>
<path d="M252.00,170.50v2.80 M254.17,170.50v1.60 M256.34,170.50v1.60 M258.51,170.50v1.60 M260.68,170.50v1.60 M262.85,170.50v2.80 M265.02,170.50v1.60 M267.19,170.50v1.60 M269.36,170.50v1.60 M271.53,170.50v1.60 M273.70,170.50v2.80 M275.87,170.50v1.60 M278.04,170.50v1.60 M280.21,170.50v1.60 M282.38,170.50v1.60 M284.55,170.50v2.80 M286.72,170.50v1.60 M288.89,170.50v1.60 M291.06,170.50v1.60 M293.23,170.50v1.60 M295.40,170.50v2.80 M297.57,170.50v1.60 M299.74,170.50v1.60 M301.91,170.50v1.60 M304.08,170.50v1.60 M306.25,170.50v2.80 M308.42,170.50v1.60" stroke="#111" stroke-width="0.9" fill="none"/>
<path d="M252.40,170.50 V127.50 H256.70 V170.50" fill="none" stroke="#3d4769" stroke-width="1.1"/>
<path d="M258.50,170.50 V115.60 H278.20 V170.50" fill="none" stroke="#3d4769" stroke-width="1.1"/>
<line x1="258.50" y1="136.00" x2="278.20" y2="132.00" stroke="#3d4769" stroke-width="1.1" />
<line x1="268.10" y1="134.05" x2="268.10" y2="170.50" stroke="#3d4769" stroke-width="1.1" />
<text x="154.10" y="56.60" font-size="7.9" text-anchor="middle" fill="#6790bb" stroke="#6790bb" font-weight="normal" style="stroke-width:0.1px">13%</text>
<text x="222.30" y="57.00" font-size="7.9" text-anchor="middle" fill="#6790bb" stroke="#6790bb" font-weight="normal" style="stroke-width:0.1px">15%</text>
<text x="290.30" y="57.00" font-size="7.9" text-anchor="middle" fill="#6790bb" stroke="#6790bb" font-weight="normal" style="stroke-width:0.1px">12%</text>
<text x="153.80" y="126.00" font-size="7.9" text-anchor="middle" fill="#6790bb" stroke="#6790bb" font-weight="normal" style="stroke-width:0.1px">25%</text>
<text x="221.80" y="126.00" font-size="7.9" text-anchor="middle" fill="#6790bb" stroke="#6790bb" font-weight="normal" style="stroke-width:0.1px">24%</text>
<text x="290.60" y="126.00" font-size="7.9" text-anchor="middle" fill="#6790bb" stroke="#6790bb" font-weight="normal" style="stroke-width:0.1px">14%</text>
<text x="43.30" y="56.40" font-size="8" text-anchor="end" fill="#111" stroke="#111" textLength="12.2" lengthAdjust="spacingAndGlyphs">10<tspan font-size="4.80" dy="-3.60">5</tspan></text>
<text x="43.30" y="69.30" font-size="8" text-anchor="end" fill="#111" stroke="#111" textLength="12.2" lengthAdjust="spacingAndGlyphs">10<tspan font-size="4.80" dy="-3.60">4</tspan></text>
<text x="43.30" y="82.20" font-size="8" text-anchor="end" fill="#111" stroke="#111" textLength="12.2" lengthAdjust="spacingAndGlyphs">10<tspan font-size="4.80" dy="-3.60">3</tspan></text>
<text x="43.30" y="94.60" font-size="8" text-anchor="end" fill="#111" stroke="#111" textLength="12.2" lengthAdjust="spacingAndGlyphs">10<tspan font-size="4.80" dy="-3.60">2</tspan></text>
<text x="43.20" y="102.00" font-size="8" text-anchor="end" fill="#111" stroke="#111" font-weight="normal" >0</text>
<line x1="47.20" y1="53.80" x2="50.00" y2="53.80" stroke="#000" stroke-width="1" />
<line x1="47.20" y1="66.70" x2="50.00" y2="66.70" stroke="#000" stroke-width="1" />
<line x1="47.20" y1="79.60" x2="50.00" y2="79.60" stroke="#000" stroke-width="1" />
<line x1="47.20" y1="92.00" x2="50.00" y2="92.00" stroke="#000" stroke-width="1" />
<line x1="47.20" y1="99.20" x2="50.00" y2="99.20" stroke="#000" stroke-width="1" />
<text x="43.30" y="123.60" font-size="8" text-anchor="end" fill="#111" stroke="#111" textLength="12.2" lengthAdjust="spacingAndGlyphs">10<tspan font-size="4.80" dy="-3.60">5</tspan></text>
<text x="43.30" y="136.50" font-size="8" text-anchor="end" fill="#111" stroke="#111" textLength="12.2" lengthAdjust="spacingAndGlyphs">10<tspan font-size="4.80" dy="-3.60">4</tspan></text>
<text x="43.30" y="149.40" font-size="8" text-anchor="end" fill="#111" stroke="#111" textLength="12.2" lengthAdjust="spacingAndGlyphs">10<tspan font-size="4.80" dy="-3.60">3</tspan></text>
<text x="43.30" y="161.80" font-size="8" text-anchor="end" fill="#111" stroke="#111" textLength="12.2" lengthAdjust="spacingAndGlyphs">10<tspan font-size="4.80" dy="-3.60">2</tspan></text>
<text x="43.20" y="169.20" font-size="8" text-anchor="end" fill="#111" stroke="#111" font-weight="normal" >0</text>
<line x1="47.20" y1="121.00" x2="50.00" y2="121.00" stroke="#000" stroke-width="1" />
<line x1="47.20" y1="133.90" x2="50.00" y2="133.90" stroke="#000" stroke-width="1" />
<line x1="47.20" y1="146.80" x2="50.00" y2="146.80" stroke="#000" stroke-width="1" />
<line x1="47.20" y1="159.20" x2="50.00" y2="159.20" stroke="#000" stroke-width="1" />
<line x1="47.20" y1="166.40" x2="50.00" y2="166.40" stroke="#000" stroke-width="1" />
<text x="50.50" y="185.60" font-size="8.3" text-anchor="middle" fill="#111" stroke="#111" font-weight="normal" >0</text>
<text x="73.30" y="185.60" font-size="8.3" text-anchor="middle" fill="#111" stroke="#111" font-weight="normal" >100k</text>
<text x="94.30" y="185.60" font-size="8.3" text-anchor="middle" fill="#111" stroke="#111" font-weight="normal" >200k</text>
<text x="117.50" y="185.60" font-size="8.3" text-anchor="middle" fill="#111" stroke="#111" font-weight="normal" >0</text>
<text x="140.30" y="185.60" font-size="8.3" text-anchor="middle" fill="#111" stroke="#111" font-weight="normal" >100k</text>
<text x="161.30" y="185.60" font-size="8.3" text-anchor="middle" fill="#111" stroke="#111" font-weight="normal" >200k</text>
<text x="184.50" y="185.60" font-size="8.3" text-anchor="middle" fill="#111" stroke="#111" font-weight="normal" >0</text>
<text x="207.30" y="185.60" font-size="8.3" text-anchor="middle" fill="#111" stroke="#111" font-weight="normal" >100k</text>
<text x="228.30" y="185.60" font-size="8.3" text-anchor="middle" fill="#111" stroke="#111" font-weight="normal" >200k</text>
<text x="251.90" y="185.60" font-size="8.3" text-anchor="middle" fill="#111" stroke="#111" font-weight="normal" >0</text>
<text x="274.70" y="185.60" font-size="8.3" text-anchor="middle" fill="#111" stroke="#111" font-weight="normal" >100k</text>
<text x="295.70" y="185.60" font-size="8.3" text-anchor="middle" fill="#111" stroke="#111" font-weight="normal" >200k</text>
<line x1="26.50" y1="43.00" x2="26.50" y2="190.30" stroke="#000" stroke-width="1.4" />
<path d="M24.00,44.40 L26.50,38.00 L29.00,44.40 Z" fill="#000"/>
<line x1="26.50" y1="190.30" x2="304.00" y2="190.30" stroke="#000" stroke-width="1.4" />
<path d="M302.60,187.80 L309.00,190.30 L302.60,192.80 Z" fill="#000"/>
<text x="165.50" y="202.00" font-size="9.2" text-anchor="middle" fill="#111" stroke="#111" font-weight="normal" textLength="84" lengthAdjust="spacingAndGlyphs" >FxCycle violet (DNA)</text>
<text x="0" y="0" font-size="9.5" text-anchor="middle" fill="#111" stroke="#111" transform="translate(21.5,114.3) rotate(-90)">EdU + Alexa Fluor<tspan font-size="6" dy="-3">®</tspan><tspan dy="3"> 647 Azide</tspan></text>
<text x="313.80" y="77.40" font-size="8.9" text-anchor="start" fill="#111" stroke="#111" font-weight="normal" >PreMegE</text>
<text x="313.80" y="145.00" font-size="8.9" text-anchor="start" fill="#111" stroke="#111" font-weight="normal" >MkP</text>
<line x1="364.80" y1="45.40" x2="364.80" y2="165.30" stroke="#000" stroke-width="1.4" />
<line x1="364.20" y1="165.30" x2="446.50" y2="165.30" stroke="#000" stroke-width="1.4" />
<path d="M365.6,165.3 V79.4 H374.2 V165.3" fill="none" stroke="#3d4769" stroke-width="1.1"/>
<path d="M378.6,165.3 V57.3 H416.3 V165.3" fill="none" stroke="#3d4769" stroke-width="1.1"/>
<line x1="378.60" y1="96.70" x2="416.30" y2="89.00" stroke="#3d4769" stroke-width="1.1" />
<line x1="396.60" y1="93.00" x2="396.60" y2="165.30" stroke="#3d4769" stroke-width="1.1" />
<text x="397.60" y="79.00" font-size="8.5" text-anchor="middle" fill="#111" stroke="#111" font-weight="normal" >S</text>
<text x="381.80" y="139.90" font-size="8" text-anchor="start" fill="#111" stroke="#111" font-weight="normal" >G0</text>
<text x="381.80" y="149.80" font-size="8" text-anchor="start" fill="#111" stroke="#111" font-weight="normal" >/G1</text>
<text x="401.60" y="139.90" font-size="8" text-anchor="start" fill="#111" stroke="#111" font-weight="normal" >G2</text>
<text x="401.60" y="149.80" font-size="8" text-anchor="start" fill="#111" stroke="#111" font-weight="normal" >/M</text>
<line x1="369.00" y1="157.70" x2="382.50" y2="176.20" stroke="#000" stroke-width="1.1" />
<text x="385.60" y="178.80" font-size="8.2" text-anchor="start" fill="#111" stroke="#111" font-weight="normal" >Sub G0/G1</text>
<line x1="70.00" y1="243.50" x2="70.00" y2="349.50" stroke="#000" stroke-width="1.5" />
<line x1="69.40" y1="349.00" x2="227.70" y2="349.00" stroke="#000" stroke-width="1.5" />
<line x1="66.50" y1="349.00" x2="70.00" y2="349.00" stroke="#000" stroke-width="1.1" />
<text x="63.50" y="351.90" font-size="8.3" text-anchor="end" fill="#111" stroke="#111" font-weight="normal" >0</text>
<line x1="66.50" y1="327.90" x2="70.00" y2="327.90" stroke="#000" stroke-width="1.1" />
<text x="63.50" y="330.80" font-size="8.3" text-anchor="end" fill="#111" stroke="#111" font-weight="normal" >20</text>
<line x1="66.50" y1="306.80" x2="70.00" y2="306.80" stroke="#000" stroke-width="1.1" />
<text x="63.50" y="309.70" font-size="8.3" text-anchor="end" fill="#111" stroke="#111" font-weight="normal" >40</text>
<line x1="66.50" y1="285.70" x2="70.00" y2="285.70" stroke="#000" stroke-width="1.1" />
<text x="63.50" y="288.60" font-size="8.3" text-anchor="end" fill="#111" stroke="#111" font-weight="normal" >60</text>
<line x1="66.50" y1="264.60" x2="70.00" y2="264.60" stroke="#000" stroke-width="1.1" />
<text x="63.50" y="267.50" font-size="8.3" text-anchor="end" fill="#111" stroke="#111" font-weight="normal" >80</text>
<line x1="66.50" y1="243.50" x2="70.00" y2="243.50" stroke="#000" stroke-width="1.1" />
<text x="63.50" y="246.40" font-size="8.3" text-anchor="end" fill="#111" stroke="#111" font-weight="normal" >100</text>
<line x1="79.40" y1="342.25" x2="79.40" y2="343.73" stroke="#000" stroke-width="1.1" />
<line x1="76.55" y1="342.25" x2="82.25" y2="342.25" stroke="#000" stroke-width="1.1" />
<rect x="75.60" y="343.73" width="7.60" height="5.27" fill="#ab0730" stroke="none" stroke-width="1" />
<line x1="90.00" y1="340.77" x2="90.00" y2="342.99" stroke="#000" stroke-width="1.1" />
<line x1="87.15" y1="340.77" x2="92.85" y2="340.77" stroke="#000" stroke-width="1.1" />
<rect x="86.20" y="342.99" width="7.60" height="6.01" fill="#979ebd" stroke="none" stroke-width="1" />
<line x1="100.60" y1="338.77" x2="100.60" y2="341.19" stroke="#000" stroke-width="1.1" />
<line x1="97.75" y1="338.77" x2="103.45" y2="338.77" stroke="#000" stroke-width="1.1" />
<rect x="96.80" y="341.19" width="7.60" height="7.81" fill="#2e4a7d" stroke="none" stroke-width="1" />
<line x1="118.70" y1="263.65" x2="118.70" y2="265.23" stroke="#000" stroke-width="1.1" />
<line x1="115.85" y1="263.65" x2="121.55" y2="263.65" stroke="#000" stroke-width="1.1" />
<rect x="114.90" y="265.23" width="7.60" height="83.77" fill="#ab0730" stroke="none" stroke-width="1" />
<line x1="129.30" y1="265.65" x2="129.30" y2="269.35" stroke="#000" stroke-width="1.1" />
<line x1="126.45" y1="265.65" x2="132.15" y2="265.65" stroke="#000" stroke-width="1.1" />
<rect x="125.50" y="269.35" width="7.60" height="79.65" fill="#979ebd" stroke="none" stroke-width="1" />
<line x1="139.90" y1="265.02" x2="139.90" y2="266.50" stroke="#000" stroke-width="1.1" />
<line x1="137.05" y1="265.02" x2="142.75" y2="265.02" stroke="#000" stroke-width="1.1" />
<rect x="136.10" y="266.50" width="7.60" height="82.50" fill="#2e4a7d" stroke="none" stroke-width="1" />
<line x1="157.90" y1="334.86" x2="157.90" y2="335.50" stroke="#000" stroke-width="1.1" />
<line x1="155.05" y1="334.86" x2="160.75" y2="334.86" stroke="#000" stroke-width="1.1" />
<rect x="154.10" y="335.50" width="7.60" height="13.50" fill="#ab0730" stroke="none" stroke-width="1" />
<line x1="168.50" y1="330.85" x2="168.50" y2="333.18" stroke="#000" stroke-width="1.1" />
<line x1="165.65" y1="330.85" x2="171.35" y2="330.85" stroke="#000" stroke-width="1.1" />
<rect x="164.70" y="333.18" width="7.60" height="15.82" fill="#979ebd" stroke="none" stroke-width="1" />
<line x1="179.10" y1="334.97" x2="179.10" y2="336.97" stroke="#000" stroke-width="1.1" />
<line x1="176.25" y1="334.97" x2="181.95" y2="334.97" stroke="#000" stroke-width="1.1" />
<rect x="175.30" y="336.97" width="7.60" height="12.03" fill="#2e4a7d" stroke="none" stroke-width="1" />
<line x1="197.10" y1="347.10" x2="197.10" y2="347.73" stroke="#000" stroke-width="1.1" />
<line x1="194.25" y1="347.10" x2="199.95" y2="347.10" stroke="#000" stroke-width="1.1" />
<rect x="193.30" y="347.73" width="7.60" height="1.27" fill="#ab0730" stroke="none" stroke-width="1" />
<line x1="207.70" y1="346.89" x2="207.70" y2="347.73" stroke="#000" stroke-width="1.1" />
<line x1="204.85" y1="346.89" x2="210.55" y2="346.89" stroke="#000" stroke-width="1.1" />
<rect x="203.90" y="347.73" width="7.60" height="1.27" fill="#979ebd" stroke="none" stroke-width="1" />
<line x1="218.30" y1="347.10" x2="218.30" y2="347.84" stroke="#000" stroke-width="1.1" />
<line x1="215.45" y1="347.10" x2="221.15" y2="347.10" stroke="#000" stroke-width="1.1" />
<rect x="214.50" y="347.84" width="7.60" height="1.16" fill="#2e4a7d" stroke="none" stroke-width="1" />
<line x1="90.00" y1="349.00" x2="90.00" y2="352.20" stroke="#000" stroke-width="1.1" />
<line x1="129.30" y1="349.00" x2="129.30" y2="352.20" stroke="#000" stroke-width="1.1" />
<line x1="168.50" y1="349.00" x2="168.50" y2="352.20" stroke="#000" stroke-width="1.1" />
<line x1="207.70" y1="349.00" x2="207.70" y2="352.20" stroke="#000" stroke-width="1.1" />
<text x="89.80" y="363.50" font-size="8.5" text-anchor="middle" fill="#111" stroke="#111" font-weight="normal" >Sub</text>
<text x="89.60" y="374.00" font-size="8.5" text-anchor="middle" fill="#111" stroke="#111" font-weight="normal" >G0/G1</text>
<text x="129.20" y="363.50" font-size="8.5" text-anchor="middle" fill="#111" stroke="#111" font-weight="normal" >G0/G1</text>
<text x="168.50" y="363.50" font-size="8.5" text-anchor="middle" fill="#111" stroke="#111" font-weight="normal" >S</text>
<text x="207.70" y="363.50" font-size="8.5" text-anchor="middle" fill="#111" stroke="#111" font-weight="normal" >G2/M</text>
<text x="0" y="0" font-size="9.2" text-anchor="middle" fill="#111" stroke="#111" transform="translate(28.00,295.00) rotate(-90)">Populations as % of</text>
<text x="0" y="0" font-size="9.2" text-anchor="middle" fill="#111" stroke="#111" transform="translate(40.90,295.50) rotate(-90)">total PreMegE cells</text>
<line x1="302.00" y1="243.80" x2="302.00" y2="349.30" stroke="#000" stroke-width="1.5" />
<line x1="301.40" y1="348.80" x2="459.40" y2="348.80" stroke="#000" stroke-width="1.5" />
<line x1="298.50" y1="348.80" x2="302.00" y2="348.80" stroke="#000" stroke-width="1.1" />
<text x="296.00" y="351.70" font-size="8.3" text-anchor="end" fill="#111" stroke="#111" font-weight="normal" >0</text>
<line x1="298.50" y1="322.80" x2="302.00" y2="322.80" stroke="#000" stroke-width="1.1" />
<text x="296.00" y="325.70" font-size="8.3" text-anchor="end" fill="#111" stroke="#111" font-weight="normal" >20</text>
<line x1="298.50" y1="296.80" x2="302.00" y2="296.80" stroke="#000" stroke-width="1.1" />
<text x="296.00" y="299.70" font-size="8.3" text-anchor="end" fill="#111" stroke="#111" font-weight="normal" >40</text>
<line x1="298.50" y1="270.80" x2="302.00" y2="270.80" stroke="#000" stroke-width="1.1" />
<text x="296.00" y="273.70" font-size="8.3" text-anchor="end" fill="#111" stroke="#111" font-weight="normal" >60</text>
<line x1="298.50" y1="244.80" x2="302.00" y2="244.80" stroke="#000" stroke-width="1.1" />
<text x="296.00" y="247.70" font-size="8.3" text-anchor="end" fill="#111" stroke="#111" font-weight="normal" >80</text>
<line x1="311.10" y1="315.65" x2="311.10" y2="321.89" stroke="#000" stroke-width="1.1" />
<line x1="308.40" y1="315.65" x2="313.80" y2="315.65" stroke="#000" stroke-width="1.1" />
<rect x="307.50" y="321.89" width="7.20" height="26.91" fill="#ab0730" stroke="none" stroke-width="1" />
<line x1="321.60" y1="306.94" x2="321.60" y2="315.26" stroke="#000" stroke-width="1.1" />
<line x1="318.90" y1="306.94" x2="324.30" y2="306.94" stroke="#000" stroke-width="1.1" />
<rect x="318.00" y="315.26" width="7.20" height="33.54" fill="#979ebd" stroke="none" stroke-width="1" />
<line x1="332.20" y1="274.05" x2="332.20" y2="283.80" stroke="#000" stroke-width="1.1" />
<line x1="329.50" y1="274.05" x2="334.90" y2="274.05" stroke="#000" stroke-width="1.1" />
<rect x="328.60" y="283.80" width="7.20" height="65.00" fill="#2e4a7d" stroke="none" stroke-width="1" />
<line x1="350.40" y1="287.96" x2="350.40" y2="291.08" stroke="#000" stroke-width="1.1" />
<line x1="347.70" y1="287.96" x2="353.10" y2="287.96" stroke="#000" stroke-width="1.1" />
<rect x="346.80" y="291.08" width="7.20" height="57.72" fill="#ab0730" stroke="none" stroke-width="1" />
<line x1="360.90" y1="292.51" x2="360.90" y2="296.80" stroke="#000" stroke-width="1.1" />
<line x1="358.20" y1="292.51" x2="363.60" y2="292.51" stroke="#000" stroke-width="1.1" />
<rect x="357.30" y="296.80" width="7.20" height="52.00" fill="#979ebd" stroke="none" stroke-width="1" />
<line x1="371.50" y1="303.95" x2="371.50" y2="309.41" stroke="#000" stroke-width="1.1" />
<line x1="368.80" y1="303.95" x2="374.20" y2="303.95" stroke="#000" stroke-width="1.1" />
<rect x="367.90" y="309.41" width="7.20" height="39.39" fill="#2e4a7d" stroke="none" stroke-width="1" />
<line x1="389.80" y1="312.66" x2="389.80" y2="316.56" stroke="#000" stroke-width="1.1" />
<line x1="387.10" y1="312.66" x2="392.50" y2="312.66" stroke="#000" stroke-width="1.1" />
<rect x="386.20" y="316.56" width="7.20" height="32.24" fill="#ab0730" stroke="none" stroke-width="1" />
<line x1="400.30" y1="313.05" x2="400.30" y2="317.60" stroke="#000" stroke-width="1.1" />
<line x1="397.60" y1="313.05" x2="403.00" y2="313.05" stroke="#000" stroke-width="1.1" />
<rect x="396.70" y="317.60" width="7.20" height="31.20" fill="#979ebd" stroke="none" stroke-width="1" />
<line x1="410.90" y1="326.44" x2="410.90" y2="330.60" stroke="#000" stroke-width="1.1" />
<line x1="408.20" y1="326.44" x2="413.60" y2="326.44" stroke="#000" stroke-width="1.1" />
<rect x="407.30" y="330.60" width="7.20" height="18.20" fill="#2e4a7d" stroke="none" stroke-width="1" />
<line x1="428.80" y1="334.76" x2="428.80" y2="336.71" stroke="#000" stroke-width="1.1" />
<line x1="426.10" y1="334.76" x2="431.50" y2="334.76" stroke="#000" stroke-width="1.1" />
<rect x="425.20" y="336.71" width="7.20" height="12.09" fill="#ab0730" stroke="none" stroke-width="1" />
<line x1="439.30" y1="333.59" x2="439.30" y2="336.06" stroke="#000" stroke-width="1.1" />
<line x1="436.60" y1="333.59" x2="442.00" y2="333.59" stroke="#000" stroke-width="1.1" />
<rect x="435.70" y="336.06" width="7.20" height="12.74" fill="#979ebd" stroke="none" stroke-width="1" />
<line x1="449.90" y1="341.00" x2="449.90" y2="342.95" stroke="#000" stroke-width="1.1" />
<line x1="447.20" y1="341.00" x2="452.60" y2="341.00" stroke="#000" stroke-width="1.1" />
<rect x="446.30" y="342.95" width="7.20" height="5.85" fill="#2e4a7d" stroke="none" stroke-width="1" />
<line x1="321.60" y1="348.80" x2="321.60" y2="352.00" stroke="#000" stroke-width="1.1" />
<line x1="360.90" y1="348.80" x2="360.90" y2="352.00" stroke="#000" stroke-width="1.1" />
<line x1="400.30" y1="348.80" x2="400.30" y2="352.00" stroke="#000" stroke-width="1.1" />
<line x1="439.30" y1="348.80" x2="439.30" y2="352.00" stroke="#000" stroke-width="1.1" />
<path d="M310.9,315.6 V266.8 H332.6 V272.5" fill="none" stroke="#111" stroke-width="1.1"/>
<text x="321.70" y="264.00" font-size="8.5" text-anchor="middle" fill="#111" stroke="#111" font-weight="normal" >****</text>
<path d="M349.8,287.6 V279.2 H372.5 V303.8" fill="none" stroke="#111" stroke-width="1.1"/>
<text x="361.20" y="276.70" font-size="8.5" text-anchor="middle" fill="#111" stroke="#111" font-weight="normal" >**</text>
<path d="M389.8,312 V304 H411.2 V326.2" fill="none" stroke="#111" stroke-width="1.1"/>
<text x="400.40" y="301.50" font-size="8.5" text-anchor="middle" fill="#111" stroke="#111" font-weight="normal" >*</text>
<text x="321.60" y="363.50" font-size="8.5" text-anchor="middle" fill="#111" stroke="#111" font-weight="normal" >Sub</text>
<text x="321.30" y="374.20" font-size="8.5" text-anchor="middle" fill="#111" stroke="#111" font-weight="normal" >G0/G1</text>
<text x="360.90" y="363.50" font-size="8.5" text-anchor="middle" fill="#111" stroke="#111" font-weight="normal" >G0/G1</text>
<text x="400.40" y="363.50" font-size="8.5" text-anchor="middle" fill="#111" stroke="#111" font-weight="normal" >S</text>
<text x="439.50" y="363.50" font-size="8.5" text-anchor="middle" fill="#111" stroke="#111" font-weight="normal" >G2/M</text>
<text x="0" y="0" font-size="9.2" text-anchor="middle" fill="#111" stroke="#111" transform="translate(267.00,295.40) rotate(-90)">Populations as % of</text>
<text x="0" y="0" font-size="9.2" text-anchor="middle" fill="#111" stroke="#111" transform="translate(280.20,295.00) rotate(-90)">total MkP cells</text>
<rect x="396.50" y="242.00" width="13.50" height="5.90" fill="#ab0730" stroke="none" stroke-width="1" />
<text x="413.00" y="247.80" font-size="8.2" text-anchor="start" fill="#111" stroke="#111" font-weight="normal" >WT</text>
<rect x="396.50" y="254.75" width="13.50" height="5.90" fill="#979ebd" stroke="none" stroke-width="1" />
<text x="413.00" y="260.55" font-size="8.2" text-anchor="start" fill="#111" stroke="#111" font-weight="normal" >P1-MRIPV/+</text>
<rect x="396.50" y="267.50" width="13.50" height="5.90" fill="#2e4a7d" stroke="none" stroke-width="1" />
<text x="413.00" y="273.30" font-size="8.2" text-anchor="start" fill="#111" stroke="#111" font-weight="normal" >P1-MRIPV/MRIPV</text>
<text x="99.60" y="415.40" font-size="8" text-anchor="middle" fill="#111" stroke="#111" font-weight="normal" >WT</text>
<text x="167.80" y="416.00" font-size="8" text-anchor="middle" fill="#111" stroke="#111" font-weight="normal" >P1-</text>
<text x="167.80" y="426.00" font-size="8" text-anchor="middle" fill="#111" stroke="#111" font-weight="normal" >MRIPV/+</text>
<text x="235.50" y="416.00" font-size="8" text-anchor="middle" fill="#111" stroke="#111" font-weight="normal" >P1-MRIPV/</text>
<text x="235.50" y="426.00" font-size="8" text-anchor="middle" fill="#111" stroke="#111" font-weight="normal" >MRIPV</text>
<g transform="translate(93.00,470.00) rotate(12)" opacity="1"><ellipse cx="0" cy="0.00" rx="5.50" ry="15.00" fill="none" stroke="#999999" stroke-width="0.8"/><ellipse cx="0" cy="0.48" rx="4.33" ry="11.81" fill="none" stroke="#7c7c7c" stroke-width="0.8"/><ellipse cx="0" cy="0.96" rx="3.16" ry="8.62" fill="none" stroke="#606060" stroke-width="0.8"/><ellipse cx="0" cy="1.43" rx="1.99" ry="5.44" fill="none" stroke="#444444" stroke-width="0.8"/></g>
<g transform="translate(96.50,451.00) rotate(8)" opacity="1"><ellipse cx="0" cy="0.00" rx="7.00" ry="12.00" fill="none" stroke="#777777" stroke-width="0.9"/><ellipse cx="0" cy="0.31" rx="5.81" ry="9.96" fill="none" stroke="#5d5d5d" stroke-width="0.9"/><ellipse cx="0" cy="0.61" rx="4.62" ry="7.92" fill="none" stroke="#444444" stroke-width="0.9"/><ellipse cx="0" cy="0.92" rx="3.43" ry="5.88" fill="none" stroke="#2a2a2a" stroke-width="0.9"/><ellipse cx="0" cy="1.22" rx="2.24" ry="3.84" fill="none" stroke="#111111" stroke-width="0.9"/></g>
<ellipse cx="97" cy="451" rx="3.2" ry="7" fill="#333" transform="rotate(8 97 451)"/>
<ellipse cx="97.5" cy="451" rx="1" ry="3.5" fill="#aaa" transform="rotate(8 97 451)"/>
<path d="M91,476 C90,480 89.5,483 90.5,485" stroke="#999" stroke-width="0.8" fill="none"/>
<g transform="translate(164.00,469.00) rotate(15)" opacity="1"><ellipse cx="0" cy="0.00" rx="4.50" ry="11.00" fill="none" stroke="#999999" stroke-width="0.8"/><ellipse cx="0" cy="0.47" rx="3.23" ry="7.88" fill="none" stroke="#777777" stroke-width="0.8"/><ellipse cx="0" cy="0.93" rx="1.95" ry="4.77" fill="none" stroke="#555555" stroke-width="0.8"/></g>
<g transform="translate(166.00,451.00) rotate(8)" opacity="1"><ellipse cx="0" cy="0.00" rx="7.50" ry="12.00" fill="none" stroke="#999999" stroke-width="0.8"/><ellipse cx="0" cy="0.51" rx="5.38" ry="8.60" fill="none" stroke="#777777" stroke-width="0.8"/><ellipse cx="0" cy="1.02" rx="3.25" ry="5.20" fill="none" stroke="#555555" stroke-width="0.8"/></g>
<ellipse cx="166.2" cy="450.5" rx="5" ry="8.5" fill="#9a9a9a" stroke="#111" stroke-width="1.9" transform="rotate(8 166.2 450.5)"/>
<ellipse cx="166.5" cy="451" rx="2" ry="4.5" fill="#d8d8d8" transform="rotate(8 166.5 451)"/>
<path d="M168.5,458 C168,465 166.5,470 164.5,474" stroke="#333" stroke-width="1.3" fill="none"/>
<g transform="translate(233.50,472.00) rotate(15)" opacity="1"><ellipse cx="0" cy="0.00" rx="5.00" ry="11.00" fill="none" stroke="#888888" stroke-width="0.85"/><ellipse cx="0" cy="0.35" rx="3.94" ry="8.66" fill="none" stroke="#6b6b6b" stroke-width="0.85"/><ellipse cx="0" cy="0.70" rx="2.88" ry="6.32" fill="none" stroke="#4f4f4f" stroke-width="0.85"/><ellipse cx="0" cy="1.05" rx="1.81" ry="3.99" fill="none" stroke="#333333" stroke-width="0.85"/></g>
<g transform="translate(236.50,456.00) rotate(8)" opacity="1"><ellipse cx="0" cy="0.00" rx="10.00" ry="17.00" fill="none" stroke="#999999" stroke-width="0.85"/><ellipse cx="0" cy="0.43" rx="8.30" ry="14.11" fill="none" stroke="#7f7f7f" stroke-width="0.85"/><ellipse cx="0" cy="0.87" rx="6.60" ry="11.22" fill="none" stroke="#666666" stroke-width="0.85"/><ellipse cx="0" cy="1.30" rx="4.90" ry="8.33" fill="none" stroke="#4c4c4c" stroke-width="0.85"/><ellipse cx="0" cy="1.73" rx="3.20" ry="5.44" fill="none" stroke="#333333" stroke-width="0.85"/></g>
<ellipse cx="236.8" cy="454" rx="6" ry="12" fill="#2a2a2a" transform="rotate(6 236.8 454)"/>
<ellipse cx="236.3" cy="453" rx="1.1" ry="6" fill="#ccc"/>
<ellipse cx="240" cy="453" rx="0.8" ry="5" fill="#777"/>
<rect x="69.30" y="431.00" width="60.70" height="60.30" fill="none" stroke="#111" stroke-width="1.2" />
<path d="M69.30,480.20h-3.20 M69.30,475.80h-2.20 M69.30,473.23h-2.20 M69.30,471.41h-2.20 M69.30,470.00h-2.20 M69.30,468.84h-2.20 M69.30,467.86h-2.20 M69.30,467.01h-2.20 M69.30,466.27h-2.20 M69.30,465.60h-3.20 M69.30,461.14h-2.20 M69.30,458.54h-2.20 M69.30,456.69h-2.20 M69.30,455.26h-2.20 M69.30,454.08h-2.20 M69.30,453.09h-2.20 M69.30,452.23h-2.20 M69.30,451.48h-2.20 M69.30,450.80h-3.20 M69.30,446.74h-2.20 M69.30,444.36h-2.20 M69.30,442.67h-2.20 M69.30,441.36h-2.20 M69.30,440.29h-2.20 M69.30,439.39h-2.20 M69.30,438.61h-2.20 M69.30,437.92h-2.20 M69.30,437.30h-3.20 M69.30,433.24h-2.20 M69.30,486.30h-2.20 M69.30,484.00h-2.20 M69.30,488.50h-2.20 M69.30,490.00h-2.20" stroke="#111" stroke-width="1.0" fill="none"/>
<path d="M79.80,491.30v2.80 M84.41,491.30v1.60 M87.10,491.30v1.60 M89.01,491.30v1.60 M90.49,491.30v1.60 M91.71,491.30v1.60 M92.73,491.30v1.60 M93.62,491.30v1.60 M94.40,491.30v1.60 M95.10,491.30v2.80 M99.71,491.30v1.60 M102.40,491.30v1.60 M104.31,491.30v1.60 M105.79,491.30v1.60 M107.01,491.30v1.60 M108.03,491.30v1.60 M108.92,491.30v1.60 M109.70,491.30v1.60 M110.40,491.30v2.80 M115.01,491.30v1.60 M117.70,491.30v1.60 M119.61,491.30v1.60 M121.09,491.30v1.60 M122.31,491.30v1.60 M123.33,491.30v1.60 M124.22,491.30v1.60 M125.00,491.30v1.60 M125.70,491.30v2.80 M73.80,491.30v1.60 M71.80,491.30v1.60 M75.80,491.30v1.60 M77.80,491.30v1.60" stroke="#111" stroke-width="0.9" fill="none"/>
<rect x="83.40" y="463.70" width="45.70" height="26.60" fill="none" stroke="#3d4769" stroke-width="1.1" />
<text x="73.80" y="505.20" font-size="6.3" text-anchor="middle" fill="#111" stroke="#111" font-weight="normal" >0</text>
<text x="86.00" y="505.20" font-size="6.3" text-anchor="end" fill="#111" stroke="#111" textLength="8.6" lengthAdjust="spacingAndGlyphs">10<tspan font-size="3.91" dy="-3.15">2</tspan></text>
<text x="101.00" y="505.20" font-size="6.3" text-anchor="end" fill="#111" stroke="#111" textLength="8.6" lengthAdjust="spacingAndGlyphs">10<tspan font-size="3.91" dy="-3.15">3</tspan></text>
<text x="116.00" y="505.20" font-size="6.3" text-anchor="end" fill="#111" stroke="#111" textLength="8.6" lengthAdjust="spacingAndGlyphs">10<tspan font-size="3.91" dy="-3.15">4</tspan></text>
<text x="128.50" y="505.20" font-size="6.3" text-anchor="end" fill="#111" stroke="#111" textLength="8.6" lengthAdjust="spacingAndGlyphs">10<tspan font-size="3.91" dy="-3.15">5</tspan></text>
<rect x="137.40" y="431.00" width="60.70" height="60.30" fill="none" stroke="#111" stroke-width="1.2" />
<path d="M137.40,480.20h-3.20 M137.40,475.80h-2.20 M137.40,473.23h-2.20 M137.40,471.41h-2.20 M137.40,470.00h-2.20 M137.40,468.84h-2.20 M137.40,467.86h-2.20 M137.40,467.01h-2.20 M137.40,466.27h-2.20 M137.40,465.60h-3.20 M137.40,461.14h-2.20 M137.40,458.54h-2.20 M137.40,456.69h-2.20 M137.40,455.26h-2.20 M137.40,454.08h-2.20 M137.40,453.09h-2.20 M137.40,452.23h-2.20 M137.40,451.48h-2.20 M137.40,450.80h-3.20 M137.40,446.74h-2.20 M137.40,444.36h-2.20 M137.40,442.67h-2.20 M137.40,441.36h-2.20 M137.40,440.29h-2.20 M137.40,439.39h-2.20 M137.40,438.61h-2.20 M137.40,437.92h-2.20 M137.40,437.30h-3.20 M137.40,433.24h-2.20 M137.40,486.30h-2.20 M137.40,484.00h-2.20 M137.40,488.50h-2.20 M137.40,490.00h-2.20" stroke="#111" stroke-width="1.0" fill="none"/>
<path d="M147.90,491.30v2.80 M152.51,491.30v1.60 M155.20,491.30v1.60 M157.11,491.30v1.60 M158.59,491.30v1.60 M159.81,491.30v1.60 M160.83,491.30v1.60 M161.72,491.30v1.60 M162.50,491.30v1.60 M163.20,491.30v2.80 M167.81,491.30v1.60 M170.50,491.30v1.60 M172.41,491.30v1.60 M173.89,491.30v1.60 M175.11,491.30v1.60 M176.13,491.30v1.60 M177.02,491.30v1.60 M177.80,491.30v1.60 M178.50,491.30v2.80 M183.11,491.30v1.60 M185.80,491.30v1.60 M187.71,491.30v1.60 M189.19,491.30v1.60 M190.41,491.30v1.60 M191.43,491.30v1.60 M192.32,491.30v1.60 M193.10,491.30v1.60 M193.80,491.30v2.80 M141.90,491.30v1.60 M139.90,491.30v1.60 M143.90,491.30v1.60 M145.90,491.30v1.60" stroke="#111" stroke-width="0.9" fill="none"/>
<rect x="151.50" y="463.70" width="45.70" height="26.60" fill="none" stroke="#3d4769" stroke-width="1.1" />
<text x="141.90" y="505.20" font-size="6.3" text-anchor="middle" fill="#111" stroke="#111" font-weight="normal" >0</text>
<text x="154.10" y="505.20" font-size="6.3" text-anchor="end" fill="#111" stroke="#111" textLength="8.6" lengthAdjust="spacingAndGlyphs">10<tspan font-size="3.91" dy="-3.15">2</tspan></text>
<text x="169.10" y="505.20" font-size="6.3" text-anchor="end" fill="#111" stroke="#111" textLength="8.6" lengthAdjust="spacingAndGlyphs">10<tspan font-size="3.91" dy="-3.15">3</tspan></text>
<text x="184.10" y="505.20" font-size="6.3" text-anchor="end" fill="#111" stroke="#111" textLength="8.6" lengthAdjust="spacingAndGlyphs">10<tspan font-size="3.91" dy="-3.15">4</tspan></text>
<text x="196.60" y="505.20" font-size="6.3" text-anchor="end" fill="#111" stroke="#111" textLength="8.6" lengthAdjust="spacingAndGlyphs">10<tspan font-size="3.91" dy="-3.15">5</tspan></text>
<rect x="204.60" y="431.00" width="60.70" height="60.30" fill="none" stroke="#111" stroke-width="1.2" />
<path d="M204.60,480.20h-3.20 M204.60,475.80h-2.20 M204.60,473.23h-2.20 M204.60,471.41h-2.20 M204.60,470.00h-2.20 M204.60,468.84h-2.20 M204.60,467.86h-2.20 M204.60,467.01h-2.20 M204.60,466.27h-2.20 M204.60,465.60h-3.20 M204.60,461.14h-2.20 M204.60,458.54h-2.20 M204.60,456.69h-2.20 M204.60,455.26h-2.20 M204.60,454.08h-2.20 M204.60,453.09h-2.20 M204.60,452.23h-2.20 M204.60,451.48h-2.20 M204.60,450.80h-3.20 M204.60,446.74h-2.20 M204.60,444.36h-2.20 M204.60,442.67h-2.20 M204.60,441.36h-2.20 M204.60,440.29h-2.20 M204.60,439.39h-2.20 M204.60,438.61h-2.20 M204.60,437.92h-2.20 M204.60,437.30h-3.20 M204.60,433.24h-2.20 M204.60,486.30h-2.20 M204.60,484.00h-2.20 M204.60,488.50h-2.20 M204.60,490.00h-2.20" stroke="#111" stroke-width="1.0" fill="none"/>
<path d="M215.10,491.30v2.80 M219.71,491.30v1.60 M222.40,491.30v1.60 M224.31,491.30v1.60 M225.79,491.30v1.60 M227.01,491.30v1.60 M228.03,491.30v1.60 M228.92,491.30v1.60 M229.70,491.30v1.60 M230.40,491.30v2.80 M235.01,491.30v1.60 M237.70,491.30v1.60 M239.61,491.30v1.60 M241.09,491.30v1.60 M242.31,491.30v1.60 M243.33,491.30v1.60 M244.22,491.30v1.60 M245.00,491.30v1.60 M245.70,491.30v2.80 M250.31,491.30v1.60 M253.00,491.30v1.60 M254.91,491.30v1.60 M256.39,491.30v1.60 M257.61,491.30v1.60 M258.63,491.30v1.60 M259.52,491.30v1.60 M260.30,491.30v1.60 M261.00,491.30v2.80 M209.10,491.30v1.60 M207.10,491.30v1.60 M211.10,491.30v1.60 M213.10,491.30v1.60" stroke="#111" stroke-width="0.9" fill="none"/>
<rect x="218.70" y="463.70" width="45.70" height="26.60" fill="none" stroke="#3d4769" stroke-width="1.1" />
<text x="209.10" y="505.20" font-size="6.3" text-anchor="middle" fill="#111" stroke="#111" font-weight="normal" >0</text>
<text x="221.30" y="505.20" font-size="6.3" text-anchor="end" fill="#111" stroke="#111" textLength="8.6" lengthAdjust="spacingAndGlyphs">10<tspan font-size="3.91" dy="-3.15">2</tspan></text>
<text x="236.30" y="505.20" font-size="6.3" text-anchor="end" fill="#111" stroke="#111" textLength="8.6" lengthAdjust="spacingAndGlyphs">10<tspan font-size="3.91" dy="-3.15">3</tspan></text>
<text x="251.30" y="505.20" font-size="6.3" text-anchor="end" fill="#111" stroke="#111" textLength="8.6" lengthAdjust="spacingAndGlyphs">10<tspan font-size="3.91" dy="-3.15">4</tspan></text>
<text x="263.80" y="505.20" font-size="6.3" text-anchor="end" fill="#111" stroke="#111" textLength="8.6" lengthAdjust="spacingAndGlyphs">10<tspan font-size="3.91" dy="-3.15">5</tspan></text>
<text x="117.50" y="488.30" font-size="8" text-anchor="middle" fill="#6790bb" stroke="#6790bb" font-weight="normal" style="stroke-width:0.1px">21%</text>
<text x="186.50" y="488.30" font-size="8" text-anchor="middle" fill="#6790bb" stroke="#6790bb" font-weight="normal" style="stroke-width:0.1px">22%</text>
<text x="254.30" y="488.30" font-size="8" text-anchor="middle" fill="#6790bb" stroke="#6790bb" font-weight="normal" style="stroke-width:0.1px">33%</text>
<text x="62.80" y="440.60" font-size="6.3" text-anchor="end" fill="#111" stroke="#111" textLength="9.2" lengthAdjust="spacingAndGlyphs">10<tspan font-size="3.91" dy="-3.15">5</tspan></text>
<text x="62.80" y="453.90" font-size="6.3" text-anchor="end" fill="#111" stroke="#111" textLength="9.2" lengthAdjust="spacingAndGlyphs">10<tspan font-size="3.91" dy="-3.15">4</tspan></text>
<text x="62.80" y="467.80" font-size="6.3" text-anchor="end" fill="#111" stroke="#111" textLength="9.2" lengthAdjust="spacingAndGlyphs">10<tspan font-size="3.91" dy="-3.15">3</tspan></text>
<text x="62.80" y="482.60" font-size="6.3" text-anchor="end" fill="#111" stroke="#111" textLength="9.2" lengthAdjust="spacingAndGlyphs">10<tspan font-size="3.91" dy="-3.15">2</tspan></text>
<text x="62.30" y="488.30" font-size="6.3" text-anchor="end" fill="#111" stroke="#111" font-weight="normal" >0</text>
<line x1="48.10" y1="430.30" x2="48.10" y2="508.50" stroke="#000" stroke-width="1.4" />
<path d="M45.60,431.70 L48.10,425.30 L50.60,431.70 Z" fill="#000"/>
<line x1="48.10" y1="508.50" x2="271.00" y2="508.50" stroke="#000" stroke-width="1.4" />
<path d="M269.60,506.00 L276.00,508.50 L269.60,511.00 Z" fill="#000"/>
<text x="270.20" y="464.60" font-size="8.3" text-anchor="start" fill="#111" stroke="#111" font-weight="normal" >MkP</text>
<text x="159.60" y="520.30" font-size="9.2" text-anchor="middle" fill="#111" stroke="#111" font-weight="normal" textLength="101" lengthAdjust="spacingAndGlyphs" >JC-1 green fluorescence</text>
<text x="0" y="0" font-size="9.2" text-anchor="middle" fill="#111" stroke="#111" transform="translate(29.80,469.30) rotate(-90)">JC-1 red</text>
<text x="0" y="0" font-size="9.2" text-anchor="middle" fill="#111" stroke="#111" transform="translate(43.50,468.60) rotate(-90)">fluorescence</text>
<line x1="353.90" y1="415.60" x2="353.90" y2="521.30" stroke="#000" stroke-width="1.5" />
<line x1="353.30" y1="520.80" x2="511.00" y2="520.80" stroke="#000" stroke-width="1.5" />
<line x1="350.30" y1="520.80" x2="353.90" y2="520.80" stroke="#000" stroke-width="1.1" />
<text x="349.20" y="523.70" font-size="8.3" text-anchor="end" fill="#111" stroke="#111" font-weight="normal" >0</text>
<line x1="350.30" y1="485.80" x2="353.90" y2="485.80" stroke="#000" stroke-width="1.1" />
<text x="349.20" y="488.70" font-size="8.3" text-anchor="end" fill="#111" stroke="#111" font-weight="normal" >20</text>
<line x1="350.30" y1="450.80" x2="353.90" y2="450.80" stroke="#000" stroke-width="1.1" />
<text x="349.20" y="453.70" font-size="8.3" text-anchor="end" fill="#111" stroke="#111" font-weight="normal" >40</text>
<line x1="350.30" y1="415.80" x2="353.90" y2="415.80" stroke="#000" stroke-width="1.1" />
<text x="349.20" y="418.70" font-size="8.3" text-anchor="end" fill="#111" stroke="#111" font-weight="normal" >60</text>
<line x1="386.20" y1="457.97" x2="386.20" y2="463.22" stroke="#000" stroke-width="1.1" />
<line x1="378.20" y1="457.97" x2="394.20" y2="457.97" stroke="#000" stroke-width="1.1" />
<rect x="370.45" y="463.22" width="31.50" height="57.57" fill="#ab0730" stroke="none" stroke-width="1" />
<line x1="433.20" y1="435.57" x2="433.20" y2="450.27" stroke="#000" stroke-width="1.1" />
<line x1="425.20" y1="435.57" x2="441.20" y2="435.57" stroke="#000" stroke-width="1.1" />
<rect x="417.45" y="450.27" width="31.50" height="70.52" fill="#979ebd" stroke="none" stroke-width="1" />
<line x1="480.10" y1="427.52" x2="480.10" y2="439.95" stroke="#000" stroke-width="1.1" />
<line x1="472.10" y1="427.52" x2="488.10" y2="427.52" stroke="#000" stroke-width="1.1" />
<rect x="464.35" y="439.95" width="31.50" height="80.85" fill="#2e4a7d" stroke="none" stroke-width="1" />
<path d="M386.4,458 V417 H480 V427.7" fill="none" stroke="#111" stroke-width="1.1"/>
<text x="433.30" y="413.80" font-size="8.5" text-anchor="middle" fill="#111" stroke="#111" font-weight="normal" >*</text>
<line x1="386.20" y1="520.80" x2="386.20" y2="524.00" stroke="#000" stroke-width="1.1" />
<line x1="433.30" y1="520.80" x2="433.30" y2="524.00" stroke="#000" stroke-width="1.1" />
<line x1="480.10" y1="520.80" x2="480.10" y2="524.00" stroke="#000" stroke-width="1.1" />
<text x="0" y="0" font-size="9.2" text-anchor="middle" fill="#111" stroke="#111" textLength="102" lengthAdjust="spacingAndGlyphs" transform="translate(319.00,466.50) rotate(-90)">JC-1 red negative events</text>
<text x="0" y="0" font-size="9.2" text-anchor="middle" fill="#111" stroke="#111" textLength="102" lengthAdjust="spacingAndGlyphs" transform="translate(332.40,466.70) rotate(-90)">as a % of total MkP cells</text>
<text font-size="8.5" text-anchor="end" fill="#111" stroke="#111" transform="translate(390.5,532.3) rotate(-45)">WT</text>
<text font-size="8.5" text-anchor="end" fill="#111" stroke="#111" transform="translate(437.3,533.3) rotate(-45)">P1-MRIPV/+</text>
<text font-size="8.5" text-anchor="end" fill="#111" stroke="#111" transform="translate(483.6,532) rotate(-45)">P1-MRIPV/</text>
<text font-size="8.5" text-anchor="end" fill="#111" stroke="#111" transform="translate(491.6,539.6) rotate(-45)">MRIPV</text>
<text x="85.60" y="606.60" font-size="8" text-anchor="middle" fill="#111" stroke="#111" font-weight="normal" >WT</text>
<text x="153.80" y="607.50" font-size="8" text-anchor="middle" fill="#111" stroke="#111" font-weight="normal" >P1-</text>
<text x="153.80" y="617.50" font-size="8" text-anchor="middle" fill="#111" stroke="#111" font-weight="normal" >MRIPV/+</text>
<text x="221.10" y="607.50" font-size="8" text-anchor="middle" fill="#111" stroke="#111" font-weight="normal" >P1-MRIPV/</text>
<text x="221.10" y="617.50" font-size="8" text-anchor="middle" fill="#111" stroke="#111" font-weight="normal" >MRIPV</text>
<ellipse cx="87.00" cy="661.50" rx="15.00" ry="20.00" fill="#cdcdcd"/>
<ellipse cx="86.55" cy="661.50" rx="15.00" ry="20.00" fill="none" stroke="#808080" stroke-width="0.75"/>
<ellipse cx="88.05" cy="662.20" rx="13.20" ry="18.92" fill="none" stroke="#707070" stroke-width="0.75"/>
<ellipse cx="87.75" cy="662.90" rx="11.40" ry="17.84" fill="none" stroke="#606060" stroke-width="0.75"/>
<ellipse cx="89.25" cy="663.60" rx="9.60" ry="16.76" fill="none" stroke="#555" stroke-width="0.75"/>
<ellipse cx="88.95" cy="664.30" rx="7.80" ry="15.68" fill="none" stroke="#4a4a4a" stroke-width="0.75"/>
<ellipse cx="88.80" cy="663.50" rx="8.25" ry="17.00" fill="#7a7a7a" opacity="0.75"/>
<ellipse cx="84.10" cy="664.50" rx="1.4" ry="11.00" fill="#3a3a3a" opacity="0.8"/>
<ellipse cx="91.30" cy="662.50" rx="1.6" ry="10.00" fill="#3a3a3a" opacity="0.8"/>
<ellipse cx="87.10" cy="662.50" rx="1.1" ry="10.00" fill="#eceef3" opacity="0.85"/>
<path d="M74,670 C72,676 74,680 77,682 M77,668 C76,674 77,678 80,681" stroke="#777" stroke-width="0.7" fill="none"/>
<g transform="translate(93.00,630.00) rotate(-10)" opacity="1"><ellipse cx="0" cy="0.00" rx="11.00" ry="6.50" fill="none" stroke="#bbbbbb" stroke-width="0.7"/><ellipse cx="0" cy="0.28" rx="7.88" ry="4.66" fill="none" stroke="#999999" stroke-width="0.7"/><ellipse cx="0" cy="0.55" rx="4.77" ry="2.82" fill="none" stroke="#777777" stroke-width="0.7"/></g>
<ellipse cx="97.4" cy="631" rx="5.5" ry="3.8" fill="#333" transform="rotate(-15 97.4 631)"/>
<ellipse cx="97.4" cy="631" rx="2" ry="1.3" fill="#888"/>
<path d="M99,640 C102,642 104,646 101,650" stroke="#888" stroke-width="0.7" fill="none"/>
<ellipse cx="151.50" cy="660.50" rx="14.50" ry="20.70" fill="#cdcdcd"/>
<ellipse cx="151.05" cy="660.50" rx="14.50" ry="20.70" fill="none" stroke="#808080" stroke-width="0.75"/>
<ellipse cx="152.55" cy="661.20" rx="12.76" ry="19.58" fill="none" stroke="#707070" stroke-width="0.75"/>
<ellipse cx="152.25" cy="661.90" rx="11.02" ry="18.46" fill="none" stroke="#606060" stroke-width="0.75"/>
<ellipse cx="153.75" cy="662.60" rx="9.28" ry="17.35" fill="none" stroke="#555" stroke-width="0.75"/>
<ellipse cx="153.45" cy="663.30" rx="7.54" ry="16.23" fill="none" stroke="#4a4a4a" stroke-width="0.75"/>
<ellipse cx="156.60" cy="662.50" rx="7.98" ry="17.59" fill="#7a7a7a" opacity="0.75"/>
<ellipse cx="151.90" cy="663.50" rx="1.4" ry="11.38" fill="#3a3a3a" opacity="0.8"/>
<ellipse cx="159.10" cy="661.50" rx="1.6" ry="10.35" fill="#3a3a3a" opacity="0.8"/>
<ellipse cx="154.90" cy="661.50" rx="1.1" ry="10.35" fill="#eceef3" opacity="0.85"/>
<ellipse cx="170" cy="646" rx="2" ry="4" fill="none" stroke="#777" stroke-width="0.7"/>
<path d="M168,663 L172,667 L169,669 Z" fill="none" stroke="#777" stroke-width="0.7"/>
<g transform="translate(160.00,631.00) rotate(-15)" opacity="1"><ellipse cx="0" cy="0.00" rx="12.00" ry="6.50" fill="none" stroke="#bbbbbb" stroke-width="0.7"/><ellipse cx="0" cy="0.28" rx="8.60" ry="4.66" fill="none" stroke="#999999" stroke-width="0.7"/><ellipse cx="0" cy="0.55" rx="5.20" ry="2.82" fill="none" stroke="#777777" stroke-width="0.7"/></g>
<ellipse transform="translate(164.80,632.00) rotate(-25)" cx="0" cy="0" rx="5.60" ry="4.00" fill="#d5d5d5" stroke="#0a0a0a" stroke-width="2.4"/>
<ellipse cx="221.00" cy="660.50" rx="15.00" ry="20.70" fill="#cdcdcd"/>
<ellipse cx="220.55" cy="660.50" rx="15.00" ry="20.70" fill="none" stroke="#808080" stroke-width="0.75"/>
<ellipse cx="222.05" cy="661.20" rx="13.20" ry="19.58" fill="none" stroke="#707070" stroke-width="0.75"/>
<ellipse cx="221.75" cy="661.90" rx="11.40" ry="18.46" fill="none" stroke="#606060" stroke-width="0.75"/>
<ellipse cx="223.25" cy="662.60" rx="9.60" ry="17.35" fill="none" stroke="#555" stroke-width="0.75"/>
<ellipse cx="222.95" cy="663.30" rx="7.80" ry="16.23" fill="none" stroke="#4a4a4a" stroke-width="0.75"/>
<ellipse cx="224.80" cy="662.50" rx="8.25" ry="17.59" fill="#7a7a7a" opacity="0.75"/>
<ellipse cx="220.10" cy="663.50" rx="1.4" ry="11.38" fill="#3a3a3a" opacity="0.8"/>
<ellipse cx="227.30" cy="661.50" rx="1.6" ry="10.35" fill="#3a3a3a" opacity="0.8"/>
<ellipse cx="223.10" cy="661.50" rx="1.1" ry="10.35" fill="#eceef3" opacity="0.85"/>
<ellipse cx="201" cy="664" rx="2.5" ry="1.8" fill="none" stroke="#888" stroke-width="0.7"/>
<ellipse cx="203" cy="674" rx="1.5" ry="1.5" fill="none" stroke="#888" stroke-width="0.7"/>
<path d="M237,643 C242,647 243,655 240,662" stroke="#888" stroke-width="0.7" fill="none"/>
<g transform="translate(231.00,630.00) rotate(-8)" opacity="1"><ellipse cx="0" cy="0.00" rx="13.00" ry="6.50" fill="none" stroke="#bbbbbb" stroke-width="0.7"/><ellipse cx="0" cy="0.28" rx="9.32" ry="4.66" fill="none" stroke="#999999" stroke-width="0.7"/><ellipse cx="0" cy="0.55" rx="5.63" ry="2.82" fill="none" stroke="#777777" stroke-width="0.7"/></g>
<ellipse transform="translate(237.00,629.50) rotate(30)" cx="0" cy="0" rx="4.50" ry="6.20" fill="#d5d5d5" stroke="#0a0a0a" stroke-width="2.4"/>
<rect x="54.70" y="621.90" width="61.60" height="60.60" fill="none" stroke="#111" stroke-width="1.2" />
<path d="M54.70,678.30h-3.20 M54.70,673.39h-2.20 M54.70,670.52h-2.20 M54.70,668.49h-2.20 M54.70,666.91h-2.20 M54.70,665.62h-2.20 M54.70,664.52h-2.20 M54.70,663.58h-2.20 M54.70,662.75h-2.20 M54.70,662.00h-3.20 M54.70,657.06h-2.20 M54.70,654.18h-2.20 M54.70,652.13h-2.20 M54.70,650.54h-2.20 M54.70,649.24h-2.20 M54.70,648.14h-2.20 M54.70,647.19h-2.20 M54.70,646.35h-2.20 M54.70,645.60h-3.20 M54.70,640.66h-2.20 M54.70,637.78h-2.20 M54.70,635.73h-2.20 M54.70,634.14h-2.20 M54.70,632.84h-2.20 M54.70,631.74h-2.20 M54.70,630.79h-2.20 M54.70,629.95h-2.20 M54.70,629.20h-3.20 M54.70,624.26h-2.20" stroke="#111" stroke-width="1.0" fill="none"/>
<path d="M65.70,682.50v2.80 M70.28,682.50v1.60 M72.95,682.50v1.60 M74.85,682.50v1.60 M76.32,682.50v1.60 M77.53,682.50v1.60 M78.55,682.50v1.60 M79.43,682.50v1.60 M80.20,682.50v1.60 M80.90,682.50v2.80 M85.48,682.50v1.60 M88.15,682.50v1.60 M90.05,682.50v1.60 M91.52,682.50v1.60 M92.73,682.50v1.60 M93.75,682.50v1.60 M94.63,682.50v1.60 M95.40,682.50v1.60 M96.10,682.50v2.80 M100.68,682.50v1.60 M103.35,682.50v1.60 M105.25,682.50v1.60 M106.72,682.50v1.60 M107.93,682.50v1.60 M108.95,682.50v1.60 M109.83,682.50v1.60 M110.60,682.50v1.60 M111.30,682.50v2.80 M58.90,682.50v1.60 M56.90,682.50v1.60 M61.20,682.50v1.60 M63.20,682.50v1.60" stroke="#111" stroke-width="0.9" fill="none"/>
<line x1="54.70" y1="637.80" x2="116.30" y2="637.80" stroke="#3d4769" stroke-width="1.6" />
<line x1="83.40" y1="621.90" x2="83.40" y2="682.50" stroke="#3d4769" stroke-width="1.6" />
<text x="58.00" y="636.00" font-size="8" text-anchor="start" fill="#6790bb" stroke="#6790bb" font-weight="normal" style="stroke-width:0.1px">0.9</text>
<text x="115.70" y="636.00" font-size="8" text-anchor="end" fill="#6790bb" stroke="#6790bb" font-weight="normal" style="stroke-width:0.1px">16</text>
<text x="58.50" y="680.50" font-size="8" text-anchor="start" fill="#6790bb" stroke="#6790bb" font-weight="normal" style="stroke-width:0.1px">25</text>
<text x="115.70" y="680.50" font-size="8" text-anchor="end" fill="#6790bb" stroke="#6790bb" font-weight="normal" style="stroke-width:0.1px">58</text>
<text x="60.00" y="695.30" font-size="6.3" text-anchor="middle" fill="#111" stroke="#111" font-weight="normal" >0</text>
<text x="70.00" y="695.30" font-size="6.3" text-anchor="end" fill="#111" stroke="#111" textLength="8.0" lengthAdjust="spacingAndGlyphs">10<tspan font-size="3.91" dy="-3.15">2</tspan></text>
<text x="86.20" y="695.30" font-size="6.3" text-anchor="end" fill="#111" stroke="#111" textLength="8.0" lengthAdjust="spacingAndGlyphs">10<tspan font-size="3.91" dy="-3.15">3</tspan></text>
<text x="100.00" y="695.30" font-size="6.3" text-anchor="end" fill="#111" stroke="#111" textLength="8.0" lengthAdjust="spacingAndGlyphs">10<tspan font-size="3.91" dy="-3.15">4</tspan></text>
<text x="113.80" y="695.30" font-size="6.3" text-anchor="end" fill="#111" stroke="#111" textLength="8.0" lengthAdjust="spacingAndGlyphs">10<tspan font-size="3.91" dy="-3.15">5</tspan></text>
<rect x="123.30" y="621.90" width="61.60" height="60.60" fill="none" stroke="#111" stroke-width="1.2" />
<path d="M123.30,678.30h-3.20 M123.30,673.39h-2.20 M123.30,670.52h-2.20 M123.30,668.49h-2.20 M123.30,666.91h-2.20 M123.30,665.62h-2.20 M123.30,664.52h-2.20 M123.30,663.58h-2.20 M123.30,662.75h-2.20 M123.30,662.00h-3.20 M123.30,657.06h-2.20 M123.30,654.18h-2.20 M123.30,652.13h-2.20 M123.30,650.54h-2.20 M123.30,649.24h-2.20 M123.30,648.14h-2.20 M123.30,647.19h-2.20 M123.30,646.35h-2.20 M123.30,645.60h-3.20 M123.30,640.66h-2.20 M123.30,637.78h-2.20 M123.30,635.73h-2.20 M123.30,634.14h-2.20 M123.30,632.84h-2.20 M123.30,631.74h-2.20 M123.30,630.79h-2.20 M123.30,629.95h-2.20 M123.30,629.20h-3.20 M123.30,624.26h-2.20" stroke="#111" stroke-width="1.0" fill="none"/>
<path d="M134.30,682.50v2.80 M138.88,682.50v1.60 M141.55,682.50v1.60 M143.45,682.50v1.60 M144.92,682.50v1.60 M146.13,682.50v1.60 M147.15,682.50v1.60 M148.03,682.50v1.60 M148.80,682.50v1.60 M149.50,682.50v2.80 M154.08,682.50v1.60 M156.75,682.50v1.60 M158.65,682.50v1.60 M160.12,682.50v1.60 M161.33,682.50v1.60 M162.35,682.50v1.60 M163.23,682.50v1.60 M164.00,682.50v1.60 M164.70,682.50v2.80 M169.28,682.50v1.60 M171.95,682.50v1.60 M173.85,682.50v1.60 M175.32,682.50v1.60 M176.53,682.50v1.60 M177.55,682.50v1.60 M178.43,682.50v1.60 M179.20,682.50v1.60 M179.90,682.50v2.80 M127.50,682.50v1.60 M125.50,682.50v1.60 M129.80,682.50v1.60 M131.80,682.50v1.60" stroke="#111" stroke-width="0.9" fill="none"/>
<line x1="123.30" y1="637.80" x2="184.90" y2="637.80" stroke="#3d4769" stroke-width="1.6" />
<line x1="152.00" y1="621.90" x2="152.00" y2="682.50" stroke="#3d4769" stroke-width="1.6" />
<text x="126.60" y="636.00" font-size="8" text-anchor="start" fill="#6790bb" stroke="#6790bb" font-weight="normal" style="stroke-width:0.1px">2</text>
<text x="184.30" y="636.00" font-size="8" text-anchor="end" fill="#6790bb" stroke="#6790bb" font-weight="normal" style="stroke-width:0.1px">28</text>
<text x="127.10" y="680.50" font-size="8" text-anchor="start" fill="#6790bb" stroke="#6790bb" font-weight="normal" style="stroke-width:0.1px">27</text>
<text x="184.30" y="680.50" font-size="8" text-anchor="end" fill="#6790bb" stroke="#6790bb" font-weight="normal" style="stroke-width:0.1px">43</text>
<text x="128.60" y="695.30" font-size="6.3" text-anchor="middle" fill="#111" stroke="#111" font-weight="normal" >0</text>
<text x="138.60" y="695.30" font-size="6.3" text-anchor="end" fill="#111" stroke="#111" textLength="8.0" lengthAdjust="spacingAndGlyphs">10<tspan font-size="3.91" dy="-3.15">2</tspan></text>
<text x="154.80" y="695.30" font-size="6.3" text-anchor="end" fill="#111" stroke="#111" textLength="8.0" lengthAdjust="spacingAndGlyphs">10<tspan font-size="3.91" dy="-3.15">3</tspan></text>
<text x="168.60" y="695.30" font-size="6.3" text-anchor="end" fill="#111" stroke="#111" textLength="8.0" lengthAdjust="spacingAndGlyphs">10<tspan font-size="3.91" dy="-3.15">4</tspan></text>
<text x="182.40" y="695.30" font-size="6.3" text-anchor="end" fill="#111" stroke="#111" textLength="8.0" lengthAdjust="spacingAndGlyphs">10<tspan font-size="3.91" dy="-3.15">5</tspan></text>
<rect x="191.00" y="621.90" width="61.60" height="60.60" fill="none" stroke="#111" stroke-width="1.2" />
<path d="M191.00,678.30h-3.20 M191.00,673.39h-2.20 M191.00,670.52h-2.20 M191.00,668.49h-2.20 M191.00,666.91h-2.20 M191.00,665.62h-2.20 M191.00,664.52h-2.20 M191.00,663.58h-2.20 M191.00,662.75h-2.20 M191.00,662.00h-3.20 M191.00,657.06h-2.20 M191.00,654.18h-2.20 M191.00,652.13h-2.20 M191.00,650.54h-2.20 M191.00,649.24h-2.20 M191.00,648.14h-2.20 M191.00,647.19h-2.20 M191.00,646.35h-2.20 M191.00,645.60h-3.20 M191.00,640.66h-2.20 M191.00,637.78h-2.20 M191.00,635.73h-2.20 M191.00,634.14h-2.20 M191.00,632.84h-2.20 M191.00,631.74h-2.20 M191.00,630.79h-2.20 M191.00,629.95h-2.20 M191.00,629.20h-3.20 M191.00,624.26h-2.20" stroke="#111" stroke-width="1.0" fill="none"/>
<path d="M202.00,682.50v2.80 M206.58,682.50v1.60 M209.25,682.50v1.60 M211.15,682.50v1.60 M212.62,682.50v1.60 M213.83,682.50v1.60 M214.85,682.50v1.60 M215.73,682.50v1.60 M216.50,682.50v1.60 M217.20,682.50v2.80 M221.78,682.50v1.60 M224.45,682.50v1.60 M226.35,682.50v1.60 M227.82,682.50v1.60 M229.03,682.50v1.60 M230.05,682.50v1.60 M230.93,682.50v1.60 M231.70,682.50v1.60 M232.40,682.50v2.80 M236.98,682.50v1.60 M239.65,682.50v1.60 M241.55,682.50v1.60 M243.02,682.50v1.60 M244.23,682.50v1.60 M245.25,682.50v1.60 M246.13,682.50v1.60 M246.90,682.50v1.60 M247.60,682.50v2.80 M195.20,682.50v1.60 M193.20,682.50v1.60 M197.50,682.50v1.60 M199.50,682.50v1.60" stroke="#111" stroke-width="0.9" fill="none"/>
<line x1="191.00" y1="637.80" x2="252.60" y2="637.80" stroke="#3d4769" stroke-width="1.6" />
<line x1="219.70" y1="621.90" x2="219.70" y2="682.50" stroke="#3d4769" stroke-width="1.6" />
<text x="194.30" y="636.00" font-size="8" text-anchor="start" fill="#6790bb" stroke="#6790bb" font-weight="normal" style="stroke-width:0.1px">3</text>
<text x="252.00" y="636.00" font-size="8" text-anchor="end" fill="#6790bb" stroke="#6790bb" font-weight="normal" style="stroke-width:0.1px">28</text>
<text x="194.80" y="680.50" font-size="8" text-anchor="start" fill="#6790bb" stroke="#6790bb" font-weight="normal" style="stroke-width:0.1px">30</text>
<text x="252.00" y="680.50" font-size="8" text-anchor="end" fill="#6790bb" stroke="#6790bb" font-weight="normal" style="stroke-width:0.1px">39</text>
<text x="196.30" y="695.30" font-size="6.3" text-anchor="middle" fill="#111" stroke="#111" font-weight="normal" >0</text>
<text x="206.30" y="695.30" font-size="6.3" text-anchor="end" fill="#111" stroke="#111" textLength="8.0" lengthAdjust="spacingAndGlyphs">10<tspan font-size="3.91" dy="-3.15">2</tspan></text>
<text x="222.50" y="695.30" font-size="6.3" text-anchor="end" fill="#111" stroke="#111" textLength="8.0" lengthAdjust="spacingAndGlyphs">10<tspan font-size="3.91" dy="-3.15">3</tspan></text>
<text x="236.30" y="695.30" font-size="6.3" text-anchor="end" fill="#111" stroke="#111" textLength="8.0" lengthAdjust="spacingAndGlyphs">10<tspan font-size="3.91" dy="-3.15">4</tspan></text>
<text x="250.10" y="695.30" font-size="6.3" text-anchor="end" fill="#111" stroke="#111" textLength="8.0" lengthAdjust="spacingAndGlyphs">10<tspan font-size="3.91" dy="-3.15">5</tspan></text>
<text x="47.80" y="632.40" font-size="6.3" text-anchor="end" fill="#111" stroke="#111" textLength="9.0" lengthAdjust="spacingAndGlyphs">10<tspan font-size="3.91" dy="-3.15">5</tspan></text>
<text x="47.80" y="648.50" font-size="6.3" text-anchor="end" fill="#111" stroke="#111" textLength="9.0" lengthAdjust="spacingAndGlyphs">10<tspan font-size="3.91" dy="-3.15">4</tspan></text>
<text x="48.00" y="664.80" font-size="6.3" text-anchor="end" fill="#111" stroke="#111" font-weight="normal" >0</text>
<line x1="34.20" y1="621.50" x2="34.20" y2="700.50" stroke="#000" stroke-width="1.4" />
<path d="M31.70,622.90 L34.20,616.50 L36.70,622.90 Z" fill="#000"/>
<line x1="34.20" y1="700.50" x2="256.00" y2="700.50" stroke="#000" stroke-width="1.4" />
<path d="M254.60,698.00 L261.00,700.50 L254.60,703.00 Z" fill="#000"/>
<text x="254.70" y="658.00" font-size="8.3" text-anchor="start" fill="#111" stroke="#111" font-weight="normal" >MkP</text>
<text x="145.50" y="713.00" font-size="9.2" text-anchor="middle" fill="#111" stroke="#111" font-weight="normal" >Annexin V</text>
<text x="0" y="0" font-size="9.2" text-anchor="middle" fill="#111" stroke="#111" transform="translate(28.20,660.60) rotate(-90)">7-AAD</text>
<line x1="354.50" y1="603.30" x2="354.50" y2="709.30" stroke="#000" stroke-width="1.5" />
<line x1="353.90" y1="708.80" x2="511.40" y2="708.80" stroke="#000" stroke-width="1.5" />
<line x1="351.00" y1="708.80" x2="354.50" y2="708.80" stroke="#000" stroke-width="1.1" />
<text x="349.50" y="711.70" font-size="8.3" text-anchor="end" fill="#111" stroke="#111" font-weight="normal" >0</text>
<line x1="351.00" y1="682.60" x2="354.50" y2="682.60" stroke="#000" stroke-width="1.1" />
<text x="349.50" y="685.50" font-size="8.3" text-anchor="end" fill="#111" stroke="#111" font-weight="normal" >20</text>
<line x1="351.00" y1="656.40" x2="354.50" y2="656.40" stroke="#000" stroke-width="1.1" />
<text x="349.50" y="659.30" font-size="8.3" text-anchor="end" fill="#111" stroke="#111" font-weight="normal" >40</text>
<line x1="351.00" y1="630.20" x2="354.50" y2="630.20" stroke="#000" stroke-width="1.1" />
<text x="349.50" y="633.10" font-size="8.3" text-anchor="end" fill="#111" stroke="#111" font-weight="normal" >60</text>
<line x1="351.00" y1="604.00" x2="354.50" y2="604.00" stroke="#000" stroke-width="1.1" />
<text x="349.50" y="606.90" font-size="8.3" text-anchor="end" fill="#111" stroke="#111" font-weight="normal" >80</text>
<line x1="372.70" y1="622.99" x2="372.70" y2="633.08" stroke="#000" stroke-width="1.1" />
<line x1="369.45" y1="622.99" x2="375.95" y2="622.99" stroke="#000" stroke-width="1.1" />
<rect x="365.50" y="633.08" width="14.40" height="75.72" fill="#ab0730" stroke="none" stroke-width="1" />
<line x1="394.20" y1="645.00" x2="394.20" y2="653.26" stroke="#000" stroke-width="1.1" />
<line x1="390.95" y1="645.00" x2="397.45" y2="645.00" stroke="#000" stroke-width="1.1" />
<rect x="387.00" y="653.26" width="14.40" height="55.54" fill="#979ebd" stroke="none" stroke-width="1" />
<line x1="415.50" y1="642.64" x2="415.50" y2="658.50" stroke="#000" stroke-width="1.1" />
<line x1="412.25" y1="642.64" x2="418.75" y2="642.64" stroke="#000" stroke-width="1.1" />
<rect x="408.30" y="658.50" width="14.40" height="50.30" fill="#2e4a7d" stroke="none" stroke-width="1" />
<line x1="451.20" y1="685.35" x2="451.20" y2="687.97" stroke="#000" stroke-width="1.1" />
<line x1="447.95" y1="685.35" x2="454.45" y2="685.35" stroke="#000" stroke-width="1.1" />
<rect x="444.00" y="687.97" width="14.40" height="20.83" fill="#ab0730" stroke="none" stroke-width="1" />
<line x1="472.70" y1="665.18" x2="472.70" y2="669.50" stroke="#000" stroke-width="1.1" />
<line x1="469.45" y1="665.18" x2="475.95" y2="665.18" stroke="#000" stroke-width="1.1" />
<rect x="465.50" y="669.50" width="14.40" height="39.30" fill="#979ebd" stroke="none" stroke-width="1" />
<line x1="494.00" y1="662.29" x2="494.00" y2="668.58" stroke="#000" stroke-width="1.1" />
<line x1="490.75" y1="662.29" x2="497.25" y2="662.29" stroke="#000" stroke-width="1.1" />
<rect x="486.80" y="668.58" width="14.40" height="40.22" fill="#2e4a7d" stroke="none" stroke-width="1" />
<path d="M372.7,623 V607.8 H415.5 V643" fill="none" stroke="#111" stroke-width="1.1"/>
<path d="M372.7,614 H394.1 V645.4" fill="none" stroke="#111" stroke-width="1.1"/>
<text x="393.80" y="607.30" font-size="8.5" text-anchor="middle" fill="#111" stroke="#111" font-weight="normal" >**</text>
<path d="M451.2,685.4 V657 H493.8 V662.3" fill="none" stroke="#111" stroke-width="1.1"/>
<path d="M451.2,660.8 H472.5 V665.4" fill="none" stroke="#111" stroke-width="1.1"/>
<text x="472.30" y="656.60" font-size="8.5" text-anchor="middle" fill="#111" stroke="#111" font-weight="normal" >*</text>
<line x1="392.80" y1="708.80" x2="392.80" y2="712.00" stroke="#000" stroke-width="1.1" />
<line x1="471.60" y1="708.80" x2="471.60" y2="712.00" stroke="#000" stroke-width="1.1" />
<text x="393.60" y="723.30" font-size="8.5" text-anchor="middle" fill="#111" stroke="#111" font-weight="normal" textLength="57" lengthAdjust="spacingAndGlyphs" >AnnV+ 7-AAD-</text>
<text x="472.10" y="723.30" font-size="8.5" text-anchor="middle" fill="#111" stroke="#111" font-weight="normal" textLength="59" lengthAdjust="spacingAndGlyphs" >AnnV+ 7-AAD+</text>
<text x="0" y="0" font-size="9.2" text-anchor="middle" fill="#111" stroke="#111" transform="translate(332.60,654.60) rotate(-90)">% MkP cells</text>
</svg></body></html>
